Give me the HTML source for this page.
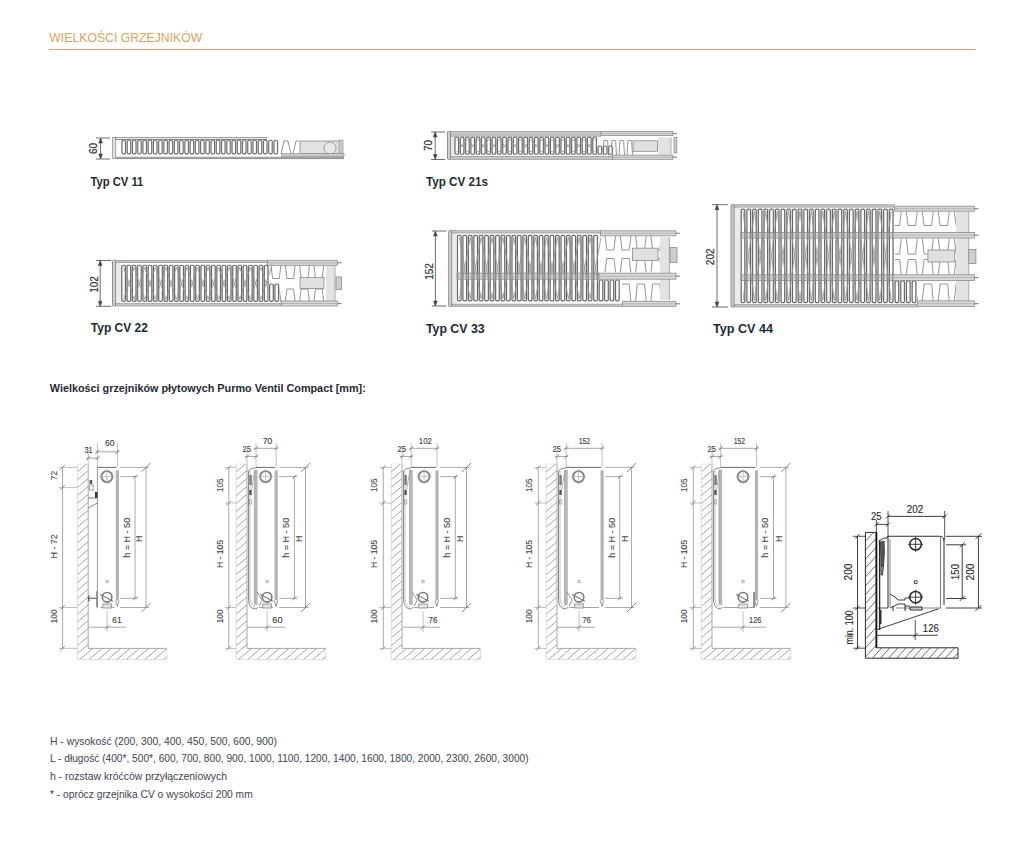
<!DOCTYPE html><html><head><meta charset="utf-8"><style>html,body{margin:0;padding:0;background:#fff;}svg{display:block}</style></head><body>
<svg width="1027" height="850" viewBox="0 0 1027 850">
<rect width="1027" height="850" fill="#ffffff"/>
<text x="49.3" y="41.7" font-family="Liberation Sans" font-size="13.4" font-weight="normal" fill="#e0a35c" text-anchor="start" textLength="153" lengthAdjust="spacingAndGlyphs">WIELKOŚCI GRZEJNIKÓW</text>
<line x1="49" y1="49.5" x2="975.5" y2="49.5" stroke="#cfa472" stroke-width="1"/>
<line x1="96" y1="138" x2="110" y2="138" stroke="#4a4a4a" stroke-width="0.8"/>
<line x1="96" y1="159" x2="110" y2="159" stroke="#4a4a4a" stroke-width="0.8"/>
<line x1="100.6" y1="139" x2="100.6" y2="158" stroke="#4a4a4a" stroke-width="0.8"/>
<path d="M98.8 143 L100.6 138 L102.39999999999999 143 Z" stroke="#444" stroke-width="0.6" fill="#444"/>
<path d="M98.8 154 L100.6 159 L102.39999999999999 154 Z" stroke="#444" stroke-width="0.6" fill="#444"/>
<text x="93.6" y="148.5" font-family="Liberation Sans" font-size="10" font-weight="normal" fill="#333" text-anchor="middle" transform="rotate(-90 93.6 148.5)" dominant-baseline="central" stroke="#333" stroke-width="0.2">60</text>
<rect x="112.7" y="137.4" width="3" height="21.0" fill="#e6e6e6" stroke="#8c8c8c" stroke-width="0.8" rx="0"/>
<line x1="115" y1="137.7" x2="267" y2="137.7" stroke="#8c8c8c" stroke-width="1"/>
<line x1="115" y1="139.5" x2="267" y2="139.5" stroke="#8c8c8c" stroke-width="1"/>
<line x1="116" y1="157.3" x2="344" y2="157.3" stroke="#8c8c8c" stroke-width="1"/>
<line x1="116" y1="158.6" x2="344" y2="158.6" stroke="#8c8c8c" stroke-width="1"/>
<rect x="121" y="140.7" width="157.46000000000004" height="12.600000000000023" fill="#e4e4e4" stroke="none" stroke-width="1" rx="0"/>
<rect x="122.0" y="140.2" width="3.5" height="13.600000000000023" fill="#ffffff" stroke="#6e6e6e" stroke-width="1.15" rx="1.3"/>
<rect x="127.24" y="140.2" width="3.5" height="13.600000000000023" fill="#ffffff" stroke="#6e6e6e" stroke-width="1.15" rx="1.3"/>
<rect x="132.48" y="140.2" width="3.5" height="13.600000000000023" fill="#ffffff" stroke="#6e6e6e" stroke-width="1.15" rx="1.3"/>
<rect x="137.72" y="140.2" width="3.5" height="13.600000000000023" fill="#ffffff" stroke="#6e6e6e" stroke-width="1.15" rx="1.3"/>
<rect x="142.96" y="140.2" width="3.5" height="13.600000000000023" fill="#ffffff" stroke="#6e6e6e" stroke-width="1.15" rx="1.3"/>
<rect x="148.2" y="140.2" width="3.5" height="13.600000000000023" fill="#ffffff" stroke="#6e6e6e" stroke-width="1.15" rx="1.3"/>
<rect x="153.44" y="140.2" width="3.5" height="13.600000000000023" fill="#ffffff" stroke="#6e6e6e" stroke-width="1.15" rx="1.3"/>
<rect x="158.68" y="140.2" width="3.5" height="13.600000000000023" fill="#ffffff" stroke="#6e6e6e" stroke-width="1.15" rx="1.3"/>
<rect x="163.92" y="140.2" width="3.5" height="13.600000000000023" fill="#ffffff" stroke="#6e6e6e" stroke-width="1.15" rx="1.3"/>
<rect x="169.16" y="140.2" width="3.5" height="13.600000000000023" fill="#ffffff" stroke="#6e6e6e" stroke-width="1.15" rx="1.3"/>
<rect x="174.4" y="140.2" width="3.5" height="13.600000000000023" fill="#ffffff" stroke="#6e6e6e" stroke-width="1.15" rx="1.3"/>
<rect x="179.64" y="140.2" width="3.5" height="13.600000000000023" fill="#ffffff" stroke="#6e6e6e" stroke-width="1.15" rx="1.3"/>
<rect x="184.88" y="140.2" width="3.5" height="13.600000000000023" fill="#ffffff" stroke="#6e6e6e" stroke-width="1.15" rx="1.3"/>
<rect x="190.12" y="140.2" width="3.5" height="13.600000000000023" fill="#ffffff" stroke="#6e6e6e" stroke-width="1.15" rx="1.3"/>
<rect x="195.36" y="140.2" width="3.5" height="13.600000000000023" fill="#ffffff" stroke="#6e6e6e" stroke-width="1.15" rx="1.3"/>
<rect x="200.6" y="140.2" width="3.5" height="13.600000000000023" fill="#ffffff" stroke="#6e6e6e" stroke-width="1.15" rx="1.3"/>
<rect x="205.84" y="140.2" width="3.5" height="13.600000000000023" fill="#ffffff" stroke="#6e6e6e" stroke-width="1.15" rx="1.3"/>
<rect x="211.08" y="140.2" width="3.5" height="13.600000000000023" fill="#ffffff" stroke="#6e6e6e" stroke-width="1.15" rx="1.3"/>
<rect x="216.32" y="140.2" width="3.5" height="13.600000000000023" fill="#ffffff" stroke="#6e6e6e" stroke-width="1.15" rx="1.3"/>
<rect x="221.56" y="140.2" width="3.5" height="13.600000000000023" fill="#ffffff" stroke="#6e6e6e" stroke-width="1.15" rx="1.3"/>
<rect x="226.8" y="140.2" width="3.5" height="13.600000000000023" fill="#ffffff" stroke="#6e6e6e" stroke-width="1.15" rx="1.3"/>
<rect x="232.04" y="140.2" width="3.5" height="13.600000000000023" fill="#ffffff" stroke="#6e6e6e" stroke-width="1.15" rx="1.3"/>
<rect x="237.28" y="140.2" width="3.5" height="13.600000000000023" fill="#ffffff" stroke="#6e6e6e" stroke-width="1.15" rx="1.3"/>
<rect x="242.52" y="140.2" width="3.5" height="13.600000000000023" fill="#ffffff" stroke="#6e6e6e" stroke-width="1.15" rx="1.3"/>
<rect x="247.76" y="140.2" width="3.5" height="13.600000000000023" fill="#ffffff" stroke="#6e6e6e" stroke-width="1.15" rx="1.3"/>
<rect x="253.0" y="140.2" width="3.5" height="13.600000000000023" fill="#ffffff" stroke="#6e6e6e" stroke-width="1.15" rx="1.3"/>
<rect x="258.24" y="140.2" width="3.5" height="13.600000000000023" fill="#ffffff" stroke="#6e6e6e" stroke-width="1.15" rx="1.3"/>
<rect x="263.48" y="140.2" width="3.5" height="13.600000000000023" fill="#ffffff" stroke="#6e6e6e" stroke-width="1.15" rx="1.3"/>
<rect x="268.72" y="140.2" width="3.5" height="13.600000000000023" fill="#ffffff" stroke="#6e6e6e" stroke-width="1.15" rx="1.3"/>
<rect x="273.96" y="140.2" width="3.5" height="13.600000000000023" fill="#ffffff" stroke="#6e6e6e" stroke-width="1.15" rx="1.3"/>
<rect x="300" y="141" width="42" height="13" fill="#e2e2e2" stroke="#888" stroke-width="0.8"/>
<path d="M281 154 L284 141 L288 141 L291 154 M293 154 L296 141 L299 141" stroke="#888" stroke-width="0.9" fill="none"/>
<circle cx="330" cy="148" r="6" fill="#e8e8e8" stroke="#888" stroke-width="0.8"/>
<rect x="339" y="140" width="4" height="14" fill="#ccc" stroke="#888" stroke-width="0.6"/>
<rect x="281.4" y="153.6" width="62.6" height="2.9" fill="#c8c8c8" stroke="#888" stroke-width="0.6"/>
<text x="90.4" y="186" font-family="Liberation Sans" font-size="13" font-weight="bold" fill="#1b2b36" text-anchor="start" textLength="53" lengthAdjust="spacingAndGlyphs">Typ CV 11</text>
<line x1="431" y1="132" x2="445" y2="132" stroke="#4a4a4a" stroke-width="0.8"/>
<line x1="431" y1="159.5" x2="445" y2="159.5" stroke="#4a4a4a" stroke-width="0.8"/>
<line x1="435.2" y1="133" x2="435.2" y2="158.5" stroke="#4a4a4a" stroke-width="0.8"/>
<path d="M433.4 137 L435.2 132 L437.0 137 Z" stroke="#444" stroke-width="0.6" fill="#444"/>
<path d="M433.4 154.5 L435.2 159.5 L437.0 154.5 Z" stroke="#444" stroke-width="0.6" fill="#444"/>
<text x="428.8" y="145.4" font-family="Liberation Sans" font-size="10" font-weight="normal" fill="#333" text-anchor="middle" transform="rotate(-90 428.8 145.4)" dominant-baseline="central" stroke="#333" stroke-width="0.2">70</text>
<rect x="450.5" y="133.8" width="3.5" height="23.299999999999994" fill="#ebebeb" stroke="none" stroke-width="1" rx="0"/>
<rect x="450.5" y="131.4" width="150.5" height="4.8" fill="#c4c4c4" stroke="#8a8a8a" stroke-width="0.6" rx="0"/>
<rect x="450.5" y="156.3" width="162.10000000000002" height="3.2" fill="#c4c4c4" stroke="#8a8a8a" stroke-width="0.6" rx="0"/>
<rect x="447.5" y="131.4" width="3.0" height="28.099999999999994" fill="#d0d0d0" stroke="#7a7a7a" stroke-width="0.8" rx="1"/>
<rect x="658" y="137.5" width="13" height="17.0" fill="#e3e3e3" stroke="none" stroke-width="1" rx="0"/>
<line x1="671" y1="137.5" x2="671" y2="154.5" stroke="#999" stroke-width="0.8"/>
<clipPath id="cup1"><rect x="601" y="136" width="32" height="20.5"/></clipPath>
<path d="M571.0 155.5 L571.9 140.5 L575.6 140.5 L576.5 155.5 M579.0 155.5 L579.9 140.5 L583.6 140.5 L584.5 155.5 M587.0 155.5 L587.9 140.5 L591.6 140.5 L592.5 155.5 M595.0 155.5 L595.9 140.5 L599.6 140.5 L600.5 155.5 M603.0 155.5 L603.9 140.5 L607.6 140.5 L608.5 155.5 M611.0 155.5 L611.9 140.5 L615.6 140.5 L616.5 155.5 M619.0 155.5 L619.9 140.5 L623.6 140.5 L624.5 155.5 M627.0 155.5 L627.9 140.5 L631.6 140.5 L632.5 155.5 M635.0 155.5 L635.9 140.5 L639.6 140.5 L640.5 155.5 " stroke="#8a8a8a" stroke-width="0.9" fill="none" clip-path="url(#cup1)"/>
<rect x="601" y="131.4" width="71.79999999999995" height="4.2" fill="#d9d9d9" stroke="#8a8a8a" stroke-width="0.8" rx="0"/>
<line x1="601" y1="133.5" x2="672.8" y2="133.5" stroke="#9a9a9a" stroke-width="0.6"/>
<line x1="672.8" y1="133.5" x2="676.8" y2="133.5" stroke="#888" stroke-width="1.2"/>
<rect x="612.6" y="155.1" width="60.19999999999993" height="4.2" fill="#d9d9d9" stroke="#8a8a8a" stroke-width="0.8" rx="0"/>
<line x1="612.6" y1="157.2" x2="672.8" y2="157.2" stroke="#9a9a9a" stroke-width="0.6"/>
<line x1="672.8" y1="157.2" x2="676.8" y2="157.2" stroke="#888" stroke-width="1.2"/>
<rect x="454" y="137.7" width="143.39999999999998" height="16.0" fill="#e4e4e4" stroke="none" stroke-width="1" rx="0"/>
<rect x="455.0" y="137.2" width="3.6" height="17.0" fill="#ffffff" stroke="#666666" stroke-width="1.15" rx="1.3"/>
<rect x="460.3" y="137.2" width="3.6" height="17.0" fill="#ffffff" stroke="#666666" stroke-width="1.15" rx="1.3"/>
<rect x="465.6" y="137.2" width="3.6" height="17.0" fill="#ffffff" stroke="#666666" stroke-width="1.15" rx="1.3"/>
<rect x="470.9" y="137.2" width="3.6" height="17.0" fill="#ffffff" stroke="#666666" stroke-width="1.15" rx="1.3"/>
<rect x="476.2" y="137.2" width="3.6" height="17.0" fill="#ffffff" stroke="#666666" stroke-width="1.15" rx="1.3"/>
<rect x="481.5" y="137.2" width="3.6" height="17.0" fill="#ffffff" stroke="#666666" stroke-width="1.15" rx="1.3"/>
<rect x="486.8" y="137.2" width="3.6" height="17.0" fill="#ffffff" stroke="#666666" stroke-width="1.15" rx="1.3"/>
<rect x="492.1" y="137.2" width="3.6" height="17.0" fill="#ffffff" stroke="#666666" stroke-width="1.15" rx="1.3"/>
<rect x="497.4" y="137.2" width="3.6" height="17.0" fill="#ffffff" stroke="#666666" stroke-width="1.15" rx="1.3"/>
<rect x="502.7" y="137.2" width="3.6" height="17.0" fill="#ffffff" stroke="#666666" stroke-width="1.15" rx="1.3"/>
<rect x="508.0" y="137.2" width="3.6" height="17.0" fill="#ffffff" stroke="#666666" stroke-width="1.15" rx="1.3"/>
<rect x="513.3" y="137.2" width="3.6" height="17.0" fill="#ffffff" stroke="#666666" stroke-width="1.15" rx="1.3"/>
<rect x="518.6" y="137.2" width="3.6" height="17.0" fill="#ffffff" stroke="#666666" stroke-width="1.15" rx="1.3"/>
<rect x="523.9" y="137.2" width="3.6" height="17.0" fill="#ffffff" stroke="#666666" stroke-width="1.15" rx="1.3"/>
<rect x="529.2" y="137.2" width="3.6" height="17.0" fill="#ffffff" stroke="#666666" stroke-width="1.15" rx="1.3"/>
<rect x="534.5" y="137.2" width="3.6" height="17.0" fill="#ffffff" stroke="#666666" stroke-width="1.15" rx="1.3"/>
<rect x="539.8" y="137.2" width="3.6" height="17.0" fill="#ffffff" stroke="#666666" stroke-width="1.15" rx="1.3"/>
<rect x="545.1" y="137.2" width="3.6" height="17.0" fill="#ffffff" stroke="#666666" stroke-width="1.15" rx="1.3"/>
<rect x="550.4" y="137.2" width="3.6" height="17.0" fill="#ffffff" stroke="#666666" stroke-width="1.15" rx="1.3"/>
<rect x="555.7" y="137.2" width="3.6" height="17.0" fill="#ffffff" stroke="#666666" stroke-width="1.15" rx="1.3"/>
<rect x="561.0" y="137.2" width="3.6" height="17.0" fill="#ffffff" stroke="#666666" stroke-width="1.15" rx="1.3"/>
<rect x="566.3" y="137.2" width="3.6" height="17.0" fill="#ffffff" stroke="#666666" stroke-width="1.15" rx="1.3"/>
<rect x="571.6" y="137.2" width="3.6" height="17.0" fill="#ffffff" stroke="#666666" stroke-width="1.15" rx="1.3"/>
<rect x="576.9" y="137.2" width="3.6" height="17.0" fill="#ffffff" stroke="#666666" stroke-width="1.15" rx="1.3"/>
<rect x="582.2" y="137.2" width="3.6" height="17.0" fill="#ffffff" stroke="#666666" stroke-width="1.15" rx="1.3"/>
<rect x="587.5" y="137.2" width="3.6" height="17.0" fill="#ffffff" stroke="#666666" stroke-width="1.15" rx="1.3"/>
<rect x="592.8" y="137.2" width="3.6" height="17.0" fill="#ffffff" stroke="#666666" stroke-width="1.15" rx="1.3"/>
<path d="M456.8 139.2 L462.1 145.7 L456.8 152.2 M467.4 139.2 L462.1 145.7 L467.4 152.2 M467.4 139.2 L472.7 145.7 L467.4 152.2 M478.0 139.2 L472.7 145.7 L478.0 152.2 M478.0 139.2 L483.3 145.7 L478.0 152.2 M488.6 139.2 L483.3 145.7 L488.6 152.2 M488.6 139.2 L493.9 145.7 L488.6 152.2 M499.2 139.2 L493.9 145.7 L499.2 152.2 M499.2 139.2 L504.5 145.7 L499.2 152.2 M509.8 139.2 L504.5 145.7 L509.8 152.2 M509.8 139.2 L515.1 145.7 L509.8 152.2 M520.4 139.2 L515.1 145.7 L520.4 152.2 M520.4 139.2 L525.7 145.7 L520.4 152.2 M531.0 139.2 L525.7 145.7 L531.0 152.2 M531.0 139.2 L536.3 145.7 L531.0 152.2 M541.6 139.2 L536.3 145.7 L541.6 152.2 M541.6 139.2 L546.9 145.7 L541.6 152.2 M552.2 139.2 L546.9 145.7 L552.2 152.2 M552.2 139.2 L557.5 145.7 L552.2 152.2 M562.8 139.2 L557.5 145.7 L562.8 152.2 M562.8 139.2 L568.1 145.7 L562.8 152.2 M573.4 139.2 L568.1 145.7 L573.4 152.2 M573.4 139.2 L578.7 145.7 L573.4 152.2 M584.0 139.2 L578.7 145.7 L584.0 152.2 M584.0 139.2 L589.3 145.7 L584.0 152.2 M594.6 139.2 L589.3 145.7 L594.6 152.2 " stroke="#909090" stroke-width="0.8" fill="none"/>
<rect x="597.1" y="146.5" width="16.200000000000045" height="7.199999999999989" fill="#e4e4e4" stroke="none" stroke-width="1" rx="0"/>
<rect x="598.1" y="146" width="3.6" height="8.199999999999989" fill="#ffffff" stroke="#666666" stroke-width="1.15" rx="1.3"/>
<rect x="603.4" y="146" width="3.6" height="8.199999999999989" fill="#ffffff" stroke="#666666" stroke-width="1.15" rx="1.3"/>
<rect x="608.7" y="146" width="3.6" height="8.199999999999989" fill="#ffffff" stroke="#666666" stroke-width="1.15" rx="1.3"/>
<rect x="633" y="140.8" width="24.600000000000023" height="10.5" fill="#e0e0e0" stroke="#8a8a8a" stroke-width="0.8" rx="0"/>
<rect x="674" y="137.5" width="2.7999999999999545" height="15.5" fill="#cfcfcf" stroke="#8a8a8a" stroke-width="0.8" rx="0"/>
<text x="425.9" y="186.2" font-family="Liberation Sans" font-size="13" font-weight="bold" fill="#1b2b36" text-anchor="start" textLength="62" lengthAdjust="spacingAndGlyphs">Typ CV 21s</text>
<line x1="96" y1="260.5" x2="111.3" y2="260.5" stroke="#4a4a4a" stroke-width="0.8"/>
<line x1="96" y1="306.3" x2="111.3" y2="306.3" stroke="#4a4a4a" stroke-width="0.8"/>
<line x1="100.2" y1="261.5" x2="100.2" y2="305.3" stroke="#4a4a4a" stroke-width="0.8"/>
<path d="M98.4 265.5 L100.2 260.5 L102.0 265.5 Z" stroke="#444" stroke-width="0.6" fill="#444"/>
<path d="M98.4 301.3 L100.2 306.3 L102.0 301.3 Z" stroke="#444" stroke-width="0.6" fill="#444"/>
<text x="94.3" y="284.5" font-family="Liberation Sans" font-size="10" font-weight="normal" fill="#333" text-anchor="middle" transform="rotate(-90 94.3 284.5)" dominant-baseline="central" stroke="#333" stroke-width="0.2">102</text>
<rect x="115.5" y="262.7" width="5.299999999999997" height="40.89999999999999" fill="#ebebeb" stroke="none" stroke-width="1" rx="0"/>
<rect x="115.5" y="260.3" width="152.0" height="2.4" fill="#c4c4c4" stroke="#8a8a8a" stroke-width="0.6" rx="0"/>
<rect x="115.5" y="303.6" width="166.0" height="2.4" fill="#c4c4c4" stroke="#8a8a8a" stroke-width="0.6" rx="0"/>
<rect x="112.5" y="260.3" width="3.0" height="45.69999999999999" fill="#d0d0d0" stroke="#7a7a7a" stroke-width="0.8" rx="1"/>
<rect x="326" y="265" width="9" height="36" fill="#e3e3e3" stroke="none" stroke-width="1" rx="0"/>
<line x1="335" y1="265" x2="335" y2="301" stroke="#999" stroke-width="0.8"/>
<clipPath id="cup2"><rect x="268" y="264" width="58" height="39"/></clipPath>
<path d="M213.8 265 L215.4 278.5 L222.1 278.5 L223.7 265 M213.8 302 L215.4 289 L222.1 289 L223.7 302 M228.1 265 L229.7 278.5 L236.4 278.5 L238.0 265 M228.1 302 L229.7 289 L236.4 289 L238.0 302 M242.4 265 L244.0 278.5 L250.7 278.5 L252.3 265 M242.4 302 L244.0 289 L250.7 289 L252.3 302 M256.7 265 L258.3 278.5 L265.0 278.5 L266.6 265 M256.7 302 L258.3 289 L265.0 289 L266.6 302 M271.0 265 L272.6 278.5 L279.3 278.5 L280.9 265 M271.0 302 L272.6 289 L279.3 289 L280.9 302 M285.3 265 L286.9 278.5 L293.6 278.5 L295.2 265 M285.3 302 L286.9 289 L293.6 289 L295.2 302 M299.6 265 L301.2 278.5 L307.9 278.5 L309.5 265 M299.6 302 L301.2 289 L307.9 289 L309.5 302 M313.9 265 L315.5 278.5 L322.2 278.5 L323.8 265 M313.9 302 L315.5 289 L322.2 289 L323.8 302 M328.2 265 L329.8 278.5 L336.5 278.5 L338.1 265 M328.2 302 L329.8 289 L336.5 289 L338.1 302 " stroke="#8a8a8a" stroke-width="0.9" fill="none" clip-path="url(#cup2)"/>
<rect x="267.5" y="260.3" width="70.0" height="5" fill="#d9d9d9" stroke="#8a8a8a" stroke-width="0.8" rx="0"/>
<line x1="267.5" y1="262.8" x2="337.5" y2="262.8" stroke="#9a9a9a" stroke-width="0.6"/>
<line x1="337.5" y1="262.8" x2="341.5" y2="262.8" stroke="#888" stroke-width="1.2"/>
<rect x="281.5" y="301.0" width="56.0" height="5" fill="#d9d9d9" stroke="#8a8a8a" stroke-width="0.8" rx="0"/>
<line x1="281.5" y1="303.5" x2="337.5" y2="303.5" stroke="#9a9a9a" stroke-width="0.6"/>
<line x1="337.5" y1="303.5" x2="341.5" y2="303.5" stroke="#888" stroke-width="1.2"/>
<rect x="120.8" y="265.7" width="148.16000000000003" height="35.19999999999999" fill="#e4e4e4" stroke="none" stroke-width="1" rx="0"/>
<rect x="121.8" y="265.2" width="3.6" height="36.19999999999999" fill="#ffffff" stroke="#666666" stroke-width="1.15" rx="1.3"/>
<rect x="127.08" y="265.2" width="3.6" height="36.19999999999999" fill="#ffffff" stroke="#666666" stroke-width="1.15" rx="1.3"/>
<rect x="132.36" y="265.2" width="3.6" height="36.19999999999999" fill="#ffffff" stroke="#666666" stroke-width="1.15" rx="1.3"/>
<rect x="137.64" y="265.2" width="3.6" height="36.19999999999999" fill="#ffffff" stroke="#666666" stroke-width="1.15" rx="1.3"/>
<rect x="142.92" y="265.2" width="3.6" height="36.19999999999999" fill="#ffffff" stroke="#666666" stroke-width="1.15" rx="1.3"/>
<rect x="148.2" y="265.2" width="3.6" height="36.19999999999999" fill="#ffffff" stroke="#666666" stroke-width="1.15" rx="1.3"/>
<rect x="153.48" y="265.2" width="3.6" height="36.19999999999999" fill="#ffffff" stroke="#666666" stroke-width="1.15" rx="1.3"/>
<rect x="158.76" y="265.2" width="3.6" height="36.19999999999999" fill="#ffffff" stroke="#666666" stroke-width="1.15" rx="1.3"/>
<rect x="164.04" y="265.2" width="3.6" height="36.19999999999999" fill="#ffffff" stroke="#666666" stroke-width="1.15" rx="1.3"/>
<rect x="169.32" y="265.2" width="3.6" height="36.19999999999999" fill="#ffffff" stroke="#666666" stroke-width="1.15" rx="1.3"/>
<rect x="174.6" y="265.2" width="3.6" height="36.19999999999999" fill="#ffffff" stroke="#666666" stroke-width="1.15" rx="1.3"/>
<rect x="179.88" y="265.2" width="3.6" height="36.19999999999999" fill="#ffffff" stroke="#666666" stroke-width="1.15" rx="1.3"/>
<rect x="185.16" y="265.2" width="3.6" height="36.19999999999999" fill="#ffffff" stroke="#666666" stroke-width="1.15" rx="1.3"/>
<rect x="190.44" y="265.2" width="3.6" height="36.19999999999999" fill="#ffffff" stroke="#666666" stroke-width="1.15" rx="1.3"/>
<rect x="195.72" y="265.2" width="3.6" height="36.19999999999999" fill="#ffffff" stroke="#666666" stroke-width="1.15" rx="1.3"/>
<rect x="201.0" y="265.2" width="3.6" height="36.19999999999999" fill="#ffffff" stroke="#666666" stroke-width="1.15" rx="1.3"/>
<rect x="206.28" y="265.2" width="3.6" height="36.19999999999999" fill="#ffffff" stroke="#666666" stroke-width="1.15" rx="1.3"/>
<rect x="211.56" y="265.2" width="3.6" height="36.19999999999999" fill="#ffffff" stroke="#666666" stroke-width="1.15" rx="1.3"/>
<rect x="216.84" y="265.2" width="3.6" height="36.19999999999999" fill="#ffffff" stroke="#666666" stroke-width="1.15" rx="1.3"/>
<rect x="222.12" y="265.2" width="3.6" height="36.19999999999999" fill="#ffffff" stroke="#666666" stroke-width="1.15" rx="1.3"/>
<rect x="227.4" y="265.2" width="3.6" height="36.19999999999999" fill="#ffffff" stroke="#666666" stroke-width="1.15" rx="1.3"/>
<rect x="232.68" y="265.2" width="3.6" height="36.19999999999999" fill="#ffffff" stroke="#666666" stroke-width="1.15" rx="1.3"/>
<rect x="237.96" y="265.2" width="3.6" height="36.19999999999999" fill="#ffffff" stroke="#666666" stroke-width="1.15" rx="1.3"/>
<rect x="243.24" y="265.2" width="3.6" height="36.19999999999999" fill="#ffffff" stroke="#666666" stroke-width="1.15" rx="1.3"/>
<rect x="248.52" y="265.2" width="3.6" height="36.19999999999999" fill="#ffffff" stroke="#666666" stroke-width="1.15" rx="1.3"/>
<rect x="253.8" y="265.2" width="3.6" height="36.19999999999999" fill="#ffffff" stroke="#666666" stroke-width="1.15" rx="1.3"/>
<rect x="259.08" y="265.2" width="3.6" height="36.19999999999999" fill="#ffffff" stroke="#666666" stroke-width="1.15" rx="1.3"/>
<rect x="264.36" y="265.2" width="3.6" height="36.19999999999999" fill="#ffffff" stroke="#666666" stroke-width="1.15" rx="1.3"/>
<path d="M123.6 267.2 L128.9 283.3 L123.6 299.4 M134.2 267.2 L128.9 283.3 L134.2 299.4 M134.2 267.2 L139.4 283.3 L134.2 299.4 M144.7 267.2 L139.4 283.3 L144.7 299.4 M144.7 267.2 L150.0 283.3 L144.7 299.4 M155.3 267.2 L150.0 283.3 L155.3 299.4 M155.3 267.2 L160.6 283.3 L155.3 299.4 M165.8 267.2 L160.6 283.3 L165.8 299.4 M165.8 267.2 L171.1 283.3 L165.8 299.4 M176.4 267.2 L171.1 283.3 L176.4 299.4 M176.4 267.2 L181.7 283.3 L176.4 299.4 M187.0 267.2 L181.7 283.3 L187.0 299.4 M187.0 267.2 L192.2 283.3 L187.0 299.4 M197.5 267.2 L192.2 283.3 L197.5 299.4 M197.5 267.2 L202.8 283.3 L197.5 299.4 M208.1 267.2 L202.8 283.3 L208.1 299.4 M208.1 267.2 L213.4 283.3 L208.1 299.4 M218.6 267.2 L213.4 283.3 L218.6 299.4 M218.6 267.2 L223.9 283.3 L218.6 299.4 M229.2 267.2 L223.9 283.3 L229.2 299.4 M229.2 267.2 L234.5 283.3 L229.2 299.4 M239.8 267.2 L234.5 283.3 L239.8 299.4 M239.8 267.2 L245.0 283.3 L239.8 299.4 M250.3 267.2 L245.0 283.3 L250.3 299.4 M250.3 267.2 L255.6 283.3 L250.3 299.4 M260.9 267.2 L255.6 283.3 L260.9 299.4 M260.9 267.2 L266.2 283.3 L260.9 299.4 M271.4 267.2 L266.2 283.3 L271.4 299.4 " stroke="#909090" stroke-width="0.8" fill="none"/>
<rect x="268.64" y="284.5" width="10.879999999999995" height="16.399999999999977" fill="#e4e4e4" stroke="none" stroke-width="1" rx="0"/>
<rect x="269.64" y="284" width="3.6" height="17.399999999999977" fill="#ffffff" stroke="#666666" stroke-width="1.15" rx="1.3"/>
<rect x="274.92" y="284" width="3.6" height="17.399999999999977" fill="#ffffff" stroke="#666666" stroke-width="1.15" rx="1.3"/>
<rect x="300" y="277.5" width="24" height="11.0" fill="#e0e0e0" stroke="#8a8a8a" stroke-width="0.8" rx="0"/>
<rect x="336" y="277" width="5.600000000000023" height="12.5" fill="#cfcfcf" stroke="#8a8a8a" stroke-width="0.8" rx="0"/>
<text x="90.8" y="332.4" font-family="Liberation Sans" font-size="13" font-weight="bold" fill="#1b2b36" text-anchor="start" textLength="57" lengthAdjust="spacingAndGlyphs">Typ CV 22</text>
<line x1="431.8" y1="231" x2="446.5" y2="231" stroke="#4a4a4a" stroke-width="0.8"/>
<line x1="431.8" y1="306" x2="446.5" y2="306" stroke="#4a4a4a" stroke-width="0.8"/>
<line x1="435.4" y1="232" x2="435.4" y2="305" stroke="#4a4a4a" stroke-width="0.8"/>
<path d="M433.59999999999997 236 L435.4 231 L437.2 236 Z" stroke="#444" stroke-width="0.6" fill="#444"/>
<path d="M433.59999999999997 301 L435.4 306 L437.2 301 Z" stroke="#444" stroke-width="0.6" fill="#444"/>
<text x="429" y="271.5" font-family="Liberation Sans" font-size="10" font-weight="normal" fill="#333" text-anchor="middle" transform="rotate(-90 429 271.5)" dominant-baseline="central" stroke="#333" stroke-width="0.2">152</text>
<rect x="451.7" y="233.0" width="4.800000000000011" height="71.10000000000001" fill="#ebebeb" stroke="none" stroke-width="1" rx="0"/>
<rect x="451.7" y="230.6" width="148.90000000000003" height="2.4" fill="#c4c4c4" stroke="#8a8a8a" stroke-width="0.6" rx="0"/>
<rect x="451.7" y="304.1" width="170.7" height="2.4" fill="#c4c4c4" stroke="#8a8a8a" stroke-width="0.6" rx="0"/>
<rect x="448.7" y="230.6" width="3.0" height="75.9" fill="#d0d0d0" stroke="#7a7a7a" stroke-width="0.8" rx="1"/>
<rect x="660" y="237" width="9.399999999999977" height="63" fill="#e3e3e3" stroke="none" stroke-width="1" rx="0"/>
<line x1="669.4" y1="237" x2="669.4" y2="300" stroke="#999" stroke-width="0.8"/>
<clipPath id="cup3"><rect x="601" y="235" width="59" height="38.5"/></clipPath>
<path d="M543.8 236 L545.5 250 L552.7 250 L554.4 236 M543.8 272.5 L545.5 258.5 L552.7 258.5 L554.4 272.5 M559.1 236 L560.8 250 L568.0 250 L569.7 236 M559.1 272.5 L560.8 258.5 L568.0 258.5 L569.7 272.5 M574.4 236 L576.1 250 L583.3 250 L585.0 236 M574.4 272.5 L576.1 258.5 L583.3 258.5 L585.0 272.5 M589.7 236 L591.4 250 L598.6 250 L600.3 236 M589.7 272.5 L591.4 258.5 L598.6 258.5 L600.3 272.5 M605.0 236 L606.7 250 L613.9 250 L615.6 236 M605.0 272.5 L606.7 258.5 L613.9 258.5 L615.6 272.5 M620.3 236 L622.0 250 L629.2 250 L630.9 236 M620.3 272.5 L622.0 258.5 L629.2 258.5 L630.9 272.5 M635.6 236 L637.3 250 L644.5 250 L646.2 236 M635.6 272.5 L637.3 258.5 L644.5 258.5 L646.2 272.5 M650.9 236 L652.6 250 L659.8 250 L661.5 236 M650.9 272.5 L652.6 258.5 L659.8 258.5 L661.5 272.5 M666.2 236 L667.9 250 L675.1 250 L676.8 236 M666.2 272.5 L667.9 258.5 L675.1 258.5 L676.8 272.5 " stroke="#8a8a8a" stroke-width="0.9" fill="none" clip-path="url(#cup3)"/>
<clipPath id="cup4"><rect x="622" y="278.5" width="38" height="23.5"/></clipPath>
<path d="M543.8 301 L545.5 284 L552.7 284 L554.4 301 M559.1 301 L560.8 284 L568.0 284 L569.7 301 M574.4 301 L576.1 284 L583.3 284 L585.0 301 M589.7 301 L591.4 284 L598.6 284 L600.3 301 M605.0 301 L606.7 284 L613.9 284 L615.6 301 M620.3 301 L622.0 284 L629.2 284 L630.9 301 M635.6 301 L637.3 284 L644.5 284 L646.2 301 M650.9 301 L652.6 284 L659.8 284 L661.5 301 M666.2 301 L667.9 284 L675.1 284 L676.8 301 " stroke="#8a8a8a" stroke-width="0.9" fill="none" clip-path="url(#cup4)"/>
<rect x="600.6" y="230.8" width="75.29999999999995" height="5" fill="#d9d9d9" stroke="#8a8a8a" stroke-width="0.8" rx="0"/>
<line x1="600.6" y1="233.3" x2="675.9" y2="233.3" stroke="#9a9a9a" stroke-width="0.6"/>
<line x1="675.9" y1="233.3" x2="679.9" y2="233.3" stroke="#888" stroke-width="1.2"/>
<rect x="622.4" y="301.3" width="53.5" height="5" fill="#d9d9d9" stroke="#8a8a8a" stroke-width="0.8" rx="0"/>
<line x1="622.4" y1="303.8" x2="675.9" y2="303.8" stroke="#9a9a9a" stroke-width="0.6"/>
<line x1="675.9" y1="303.8" x2="679.9" y2="303.8" stroke="#888" stroke-width="1.2"/>
<rect x="456.5" y="235.9" width="141.85000000000002" height="64.49999999999997" fill="#e4e4e4" stroke="none" stroke-width="1" rx="0"/>
<rect x="457.5" y="235.4" width="3.6" height="65.49999999999997" fill="#ffffff" stroke="#666666" stroke-width="1.15" rx="1.3"/>
<rect x="462.95" y="235.4" width="3.6" height="65.49999999999997" fill="#ffffff" stroke="#666666" stroke-width="1.15" rx="1.3"/>
<rect x="468.4" y="235.4" width="3.6" height="65.49999999999997" fill="#ffffff" stroke="#666666" stroke-width="1.15" rx="1.3"/>
<rect x="473.85" y="235.4" width="3.6" height="65.49999999999997" fill="#ffffff" stroke="#666666" stroke-width="1.15" rx="1.3"/>
<rect x="479.3" y="235.4" width="3.6" height="65.49999999999997" fill="#ffffff" stroke="#666666" stroke-width="1.15" rx="1.3"/>
<rect x="484.75" y="235.4" width="3.6" height="65.49999999999997" fill="#ffffff" stroke="#666666" stroke-width="1.15" rx="1.3"/>
<rect x="490.2" y="235.4" width="3.6" height="65.49999999999997" fill="#ffffff" stroke="#666666" stroke-width="1.15" rx="1.3"/>
<rect x="495.65" y="235.4" width="3.6" height="65.49999999999997" fill="#ffffff" stroke="#666666" stroke-width="1.15" rx="1.3"/>
<rect x="501.1" y="235.4" width="3.6" height="65.49999999999997" fill="#ffffff" stroke="#666666" stroke-width="1.15" rx="1.3"/>
<rect x="506.55" y="235.4" width="3.6" height="65.49999999999997" fill="#ffffff" stroke="#666666" stroke-width="1.15" rx="1.3"/>
<rect x="512.0" y="235.4" width="3.6" height="65.49999999999997" fill="#ffffff" stroke="#666666" stroke-width="1.15" rx="1.3"/>
<rect x="517.45" y="235.4" width="3.6" height="65.49999999999997" fill="#ffffff" stroke="#666666" stroke-width="1.15" rx="1.3"/>
<rect x="522.9" y="235.4" width="3.6" height="65.49999999999997" fill="#ffffff" stroke="#666666" stroke-width="1.15" rx="1.3"/>
<rect x="528.35" y="235.4" width="3.6" height="65.49999999999997" fill="#ffffff" stroke="#666666" stroke-width="1.15" rx="1.3"/>
<rect x="533.8" y="235.4" width="3.6" height="65.49999999999997" fill="#ffffff" stroke="#666666" stroke-width="1.15" rx="1.3"/>
<rect x="539.25" y="235.4" width="3.6" height="65.49999999999997" fill="#ffffff" stroke="#666666" stroke-width="1.15" rx="1.3"/>
<rect x="544.7" y="235.4" width="3.6" height="65.49999999999997" fill="#ffffff" stroke="#666666" stroke-width="1.15" rx="1.3"/>
<rect x="550.15" y="235.4" width="3.6" height="65.49999999999997" fill="#ffffff" stroke="#666666" stroke-width="1.15" rx="1.3"/>
<rect x="555.6" y="235.4" width="3.6" height="65.49999999999997" fill="#ffffff" stroke="#666666" stroke-width="1.15" rx="1.3"/>
<rect x="561.05" y="235.4" width="3.6" height="65.49999999999997" fill="#ffffff" stroke="#666666" stroke-width="1.15" rx="1.3"/>
<rect x="566.5" y="235.4" width="3.6" height="65.49999999999997" fill="#ffffff" stroke="#666666" stroke-width="1.15" rx="1.3"/>
<rect x="571.95" y="235.4" width="3.6" height="65.49999999999997" fill="#ffffff" stroke="#666666" stroke-width="1.15" rx="1.3"/>
<rect x="577.4" y="235.4" width="3.6" height="65.49999999999997" fill="#ffffff" stroke="#666666" stroke-width="1.15" rx="1.3"/>
<rect x="582.85" y="235.4" width="3.6" height="65.49999999999997" fill="#ffffff" stroke="#666666" stroke-width="1.15" rx="1.3"/>
<rect x="588.3" y="235.4" width="3.6" height="65.49999999999997" fill="#ffffff" stroke="#666666" stroke-width="1.15" rx="1.3"/>
<rect x="593.75" y="235.4" width="3.6" height="65.49999999999997" fill="#ffffff" stroke="#666666" stroke-width="1.15" rx="1.3"/>
<path d="M459.3 237.4 L464.8 268.1 L459.3 298.9 M470.2 237.4 L464.8 268.1 L470.2 298.9 M470.2 237.4 L475.6 268.1 L470.2 298.9 M481.1 237.4 L475.6 268.1 L481.1 298.9 M481.1 237.4 L486.6 268.1 L481.1 298.9 M492.0 237.4 L486.6 268.1 L492.0 298.9 M492.0 237.4 L497.4 268.1 L492.0 298.9 M502.9 237.4 L497.4 268.1 L502.9 298.9 M502.9 237.4 L508.4 268.1 L502.9 298.9 M513.8 237.4 L508.4 268.1 L513.8 298.9 M513.8 237.4 L519.2 268.1 L513.8 298.9 M524.7 237.4 L519.2 268.1 L524.7 298.9 M524.7 237.4 L530.1 268.1 L524.7 298.9 M535.6 237.4 L530.1 268.1 L535.6 298.9 M535.6 237.4 L541.0 268.1 L535.6 298.9 M546.5 237.4 L541.0 268.1 L546.5 298.9 M546.5 237.4 L552.0 268.1 L546.5 298.9 M557.4 237.4 L552.0 268.1 L557.4 298.9 M557.4 237.4 L562.9 268.1 L557.4 298.9 M568.3 237.4 L562.9 268.1 L568.3 298.9 M568.3 237.4 L573.8 268.1 L568.3 298.9 M579.2 237.4 L573.8 268.1 L579.2 298.9 M579.2 237.4 L584.6 268.1 L579.2 298.9 M590.1 237.4 L584.6 268.1 L590.1 298.9 M590.1 237.4 L595.5 268.1 L590.1 298.9 M601.0 237.4 L595.5 268.1 L601.0 298.9 " stroke="#909090" stroke-width="0.8" fill="none"/>
<rect x="598.2" y="280.5" width="21.950000000000045" height="19.899999999999977" fill="#e4e4e4" stroke="none" stroke-width="1" rx="0"/>
<rect x="599.2" y="280" width="3.6" height="20.899999999999977" fill="#ffffff" stroke="#666666" stroke-width="1.15" rx="1.3"/>
<rect x="604.65" y="280" width="3.6" height="20.899999999999977" fill="#ffffff" stroke="#666666" stroke-width="1.15" rx="1.3"/>
<rect x="610.1" y="280" width="3.6" height="20.899999999999977" fill="#ffffff" stroke="#666666" stroke-width="1.15" rx="1.3"/>
<rect x="615.55" y="280" width="3.6" height="20.899999999999977" fill="#ffffff" stroke="#666666" stroke-width="1.15" rx="1.3"/>
<rect x="457" y="273.2" width="142" height="6" fill="#a0a0a0" fill-opacity="0.4" stroke="#8a8a8a" stroke-width="0.8"/>
<line x1="457" y1="276.2" x2="599" y2="276.2" stroke="#a8a8a8" stroke-width="0.6"/>
<rect x="599" y="273.2" width="76.89999999999998" height="6" fill="#d9d9d9" stroke="#8a8a8a" stroke-width="0.8" rx="0"/>
<line x1="599" y1="276.2" x2="675.9" y2="276.2" stroke="#9a9a9a" stroke-width="0.6"/>
<line x1="675.9" y1="276.2" x2="679.9" y2="276.2" stroke="#888" stroke-width="1.2"/>
<rect x="632.4" y="248.2" width="25.600000000000023" height="12.400000000000034" fill="#e0e0e0" stroke="#8a8a8a" stroke-width="0.8" rx="0"/>
<rect x="670" y="247.6" width="7" height="14.799999999999983" fill="#cfcfcf" stroke="#8a8a8a" stroke-width="0.8" rx="0"/>
<text x="425.9" y="332.5" font-family="Liberation Sans" font-size="13" font-weight="bold" fill="#1b2b36" text-anchor="start" textLength="58.8" lengthAdjust="spacingAndGlyphs">Typ CV 33</text>
<line x1="712" y1="204.7" x2="728" y2="204.7" stroke="#4a4a4a" stroke-width="0.8"/>
<line x1="712" y1="307" x2="728" y2="307" stroke="#4a4a4a" stroke-width="0.8"/>
<line x1="717" y1="205.7" x2="717" y2="306" stroke="#4a4a4a" stroke-width="0.8"/>
<path d="M715.2 209.7 L717 204.7 L718.8 209.7 Z" stroke="#444" stroke-width="0.6" fill="#444"/>
<path d="M715.2 302 L717 307 L718.8 302 Z" stroke="#444" stroke-width="0.6" fill="#444"/>
<text x="710.3" y="256.8" font-family="Liberation Sans" font-size="10" font-weight="normal" fill="#333" text-anchor="middle" transform="rotate(-90 710.3 256.8)" dominant-baseline="central" stroke="#333" stroke-width="0.2">202</text>
<rect x="734" y="207.1" width="6.2000000000000455" height="97.50000000000001" fill="#ebebeb" stroke="none" stroke-width="1" rx="0"/>
<rect x="734" y="204.7" width="160.70000000000005" height="2.4" fill="#c4c4c4" stroke="#8a8a8a" stroke-width="0.6" rx="0"/>
<rect x="734" y="304.6" width="183.29999999999995" height="2.4" fill="#c4c4c4" stroke="#8a8a8a" stroke-width="0.6" rx="0"/>
<rect x="731" y="204.7" width="3.0" height="102.30000000000001" fill="#d0d0d0" stroke="#7a7a7a" stroke-width="0.8" rx="1"/>
<rect x="956" y="212" width="12.799999999999955" height="89" fill="#e3e3e3" stroke="none" stroke-width="1" rx="0"/>
<line x1="968.8" y1="212" x2="968.8" y2="301" stroke="#999" stroke-width="0.8"/>
<clipPath id="cup5"><rect x="895" y="210.5" width="61" height="22.5"/></clipPath>
<path d="M842.3 211.5 L844.1 225.5 L851.6 225.5 L853.3 211.5 M858.3 211.5 L860.1 225.5 L867.6 225.5 L869.3 211.5 M874.3 211.5 L876.1 225.5 L883.6 225.5 L885.3 211.5 M890.3 211.5 L892.1 225.5 L899.6 225.5 L901.3 211.5 M906.3 211.5 L908.1 225.5 L915.6 225.5 L917.3 211.5 M922.3 211.5 L924.1 225.5 L931.6 225.5 L933.3 211.5 M938.3 211.5 L940.1 225.5 L947.6 225.5 L949.3 211.5 M954.3 211.5 L956.1 225.5 L963.6 225.5 L965.3 211.5 M970.3 211.5 L972.1 225.5 L979.6 225.5 L981.3 211.5 " stroke="#8a8a8a" stroke-width="0.9" fill="none" clip-path="url(#cup5)"/>
<clipPath id="cup6"><rect x="895" y="237.5" width="61" height="38.0"/></clipPath>
<path d="M842.3 238.5 L844.1 254.0 L851.6 254.0 L853.3 238.5 M842.3 274.5 L844.1 259.5 L851.6 259.5 L853.3 274.5 M858.3 238.5 L860.1 254.0 L867.6 254.0 L869.3 238.5 M858.3 274.5 L860.1 259.5 L867.6 259.5 L869.3 274.5 M874.3 238.5 L876.1 254.0 L883.6 254.0 L885.3 238.5 M874.3 274.5 L876.1 259.5 L883.6 259.5 L885.3 274.5 M890.3 238.5 L892.1 254.0 L899.6 254.0 L901.3 238.5 M890.3 274.5 L892.1 259.5 L899.6 259.5 L901.3 274.5 M906.3 238.5 L908.1 254.0 L915.6 254.0 L917.3 238.5 M906.3 274.5 L908.1 259.5 L915.6 259.5 L917.3 274.5 M922.3 238.5 L924.1 254.0 L931.6 254.0 L933.3 238.5 M922.3 274.5 L924.1 259.5 L931.6 259.5 L933.3 274.5 M938.3 238.5 L940.1 254.0 L947.6 254.0 L949.3 238.5 M938.3 274.5 L940.1 259.5 L947.6 259.5 L949.3 274.5 M954.3 238.5 L956.1 254.0 L963.6 254.0 L965.3 238.5 M954.3 274.5 L956.1 259.5 L963.6 259.5 L965.3 274.5 M970.3 238.5 L972.1 254.0 L979.6 254.0 L981.3 238.5 M970.3 274.5 L972.1 259.5 L979.6 259.5 L981.3 274.5 " stroke="#8a8a8a" stroke-width="0.9" fill="none" clip-path="url(#cup6)"/>
<clipPath id="cup7"><rect x="917" y="279.5" width="39" height="22.5"/></clipPath>
<path d="M842.3 301 L844.1 284 L851.6 284 L853.3 301 M858.3 301 L860.1 284 L867.6 284 L869.3 301 M874.3 301 L876.1 284 L883.6 284 L885.3 301 M890.3 301 L892.1 284 L899.6 284 L901.3 301 M906.3 301 L908.1 284 L915.6 284 L917.3 301 M922.3 301 L924.1 284 L931.6 284 L933.3 301 M938.3 301 L940.1 284 L947.6 284 L949.3 301 M954.3 301 L956.1 284 L963.6 284 L965.3 301 M970.3 301 L972.1 284 L979.6 284 L981.3 301 " stroke="#8a8a8a" stroke-width="0.9" fill="none" clip-path="url(#cup7)"/>
<rect x="894.7" y="206.2" width="79.79999999999995" height="5" fill="#d9d9d9" stroke="#8a8a8a" stroke-width="0.8" rx="0"/>
<line x1="894.7" y1="208.7" x2="974.5" y2="208.7" stroke="#9a9a9a" stroke-width="0.6"/>
<line x1="974.5" y1="208.7" x2="978.5" y2="208.7" stroke="#888" stroke-width="1.2"/>
<rect x="917.3" y="300.9" width="57.200000000000045" height="5.6" fill="#d9d9d9" stroke="#8a8a8a" stroke-width="0.8" rx="0"/>
<line x1="917.3" y1="303.7" x2="974.5" y2="303.7" stroke="#9a9a9a" stroke-width="0.6"/>
<line x1="974.5" y1="303.7" x2="978.5" y2="303.7" stroke="#888" stroke-width="1.2"/>
<rect x="740.2" y="209.6" width="153.80000000000007" height="92.50000000000003" fill="#e4e4e4" stroke="none" stroke-width="1" rx="0"/>
<rect x="741.2" y="209.1" width="3.6" height="93.50000000000003" fill="#ffffff" stroke="#666666" stroke-width="1.15" rx="1.3"/>
<rect x="746.9" y="209.1" width="3.6" height="93.50000000000003" fill="#ffffff" stroke="#666666" stroke-width="1.15" rx="1.3"/>
<rect x="752.6" y="209.1" width="3.6" height="93.50000000000003" fill="#ffffff" stroke="#666666" stroke-width="1.15" rx="1.3"/>
<rect x="758.3" y="209.1" width="3.6" height="93.50000000000003" fill="#ffffff" stroke="#666666" stroke-width="1.15" rx="1.3"/>
<rect x="764.0" y="209.1" width="3.6" height="93.50000000000003" fill="#ffffff" stroke="#666666" stroke-width="1.15" rx="1.3"/>
<rect x="769.7" y="209.1" width="3.6" height="93.50000000000003" fill="#ffffff" stroke="#666666" stroke-width="1.15" rx="1.3"/>
<rect x="775.4" y="209.1" width="3.6" height="93.50000000000003" fill="#ffffff" stroke="#666666" stroke-width="1.15" rx="1.3"/>
<rect x="781.1" y="209.1" width="3.6" height="93.50000000000003" fill="#ffffff" stroke="#666666" stroke-width="1.15" rx="1.3"/>
<rect x="786.8" y="209.1" width="3.6" height="93.50000000000003" fill="#ffffff" stroke="#666666" stroke-width="1.15" rx="1.3"/>
<rect x="792.5" y="209.1" width="3.6" height="93.50000000000003" fill="#ffffff" stroke="#666666" stroke-width="1.15" rx="1.3"/>
<rect x="798.2" y="209.1" width="3.6" height="93.50000000000003" fill="#ffffff" stroke="#666666" stroke-width="1.15" rx="1.3"/>
<rect x="803.9" y="209.1" width="3.6" height="93.50000000000003" fill="#ffffff" stroke="#666666" stroke-width="1.15" rx="1.3"/>
<rect x="809.6" y="209.1" width="3.6" height="93.50000000000003" fill="#ffffff" stroke="#666666" stroke-width="1.15" rx="1.3"/>
<rect x="815.3" y="209.1" width="3.6" height="93.50000000000003" fill="#ffffff" stroke="#666666" stroke-width="1.15" rx="1.3"/>
<rect x="821.0" y="209.1" width="3.6" height="93.50000000000003" fill="#ffffff" stroke="#666666" stroke-width="1.15" rx="1.3"/>
<rect x="826.7" y="209.1" width="3.6" height="93.50000000000003" fill="#ffffff" stroke="#666666" stroke-width="1.15" rx="1.3"/>
<rect x="832.4" y="209.1" width="3.6" height="93.50000000000003" fill="#ffffff" stroke="#666666" stroke-width="1.15" rx="1.3"/>
<rect x="838.1" y="209.1" width="3.6" height="93.50000000000003" fill="#ffffff" stroke="#666666" stroke-width="1.15" rx="1.3"/>
<rect x="843.8" y="209.1" width="3.6" height="93.50000000000003" fill="#ffffff" stroke="#666666" stroke-width="1.15" rx="1.3"/>
<rect x="849.5" y="209.1" width="3.6" height="93.50000000000003" fill="#ffffff" stroke="#666666" stroke-width="1.15" rx="1.3"/>
<rect x="855.2" y="209.1" width="3.6" height="93.50000000000003" fill="#ffffff" stroke="#666666" stroke-width="1.15" rx="1.3"/>
<rect x="860.9" y="209.1" width="3.6" height="93.50000000000003" fill="#ffffff" stroke="#666666" stroke-width="1.15" rx="1.3"/>
<rect x="866.6" y="209.1" width="3.6" height="93.50000000000003" fill="#ffffff" stroke="#666666" stroke-width="1.15" rx="1.3"/>
<rect x="872.3" y="209.1" width="3.6" height="93.50000000000003" fill="#ffffff" stroke="#666666" stroke-width="1.15" rx="1.3"/>
<rect x="878.0" y="209.1" width="3.6" height="93.50000000000003" fill="#ffffff" stroke="#666666" stroke-width="1.15" rx="1.3"/>
<rect x="883.7" y="209.1" width="3.6" height="93.50000000000003" fill="#ffffff" stroke="#666666" stroke-width="1.15" rx="1.3"/>
<rect x="889.4" y="209.1" width="3.6" height="93.50000000000003" fill="#ffffff" stroke="#666666" stroke-width="1.15" rx="1.3"/>
<path d="M743.0 211.1 L748.7 255.9 L743.0 300.6 M754.4 211.1 L748.7 255.9 L754.4 300.6 M754.4 211.1 L760.1 255.9 L754.4 300.6 M765.8 211.1 L760.1 255.9 L765.8 300.6 M765.8 211.1 L771.5 255.9 L765.8 300.6 M777.2 211.1 L771.5 255.9 L777.2 300.6 M777.2 211.1 L782.9 255.9 L777.2 300.6 M788.6 211.1 L782.9 255.9 L788.6 300.6 M788.6 211.1 L794.3 255.9 L788.6 300.6 M800.0 211.1 L794.3 255.9 L800.0 300.6 M800.0 211.1 L805.7 255.9 L800.0 300.6 M811.4 211.1 L805.7 255.9 L811.4 300.6 M811.4 211.1 L817.1 255.9 L811.4 300.6 M822.8 211.1 L817.1 255.9 L822.8 300.6 M822.8 211.1 L828.5 255.9 L822.8 300.6 M834.2 211.1 L828.5 255.9 L834.2 300.6 M834.2 211.1 L839.9 255.9 L834.2 300.6 M845.6 211.1 L839.9 255.9 L845.6 300.6 M845.6 211.1 L851.3 255.9 L845.6 300.6 M857.0 211.1 L851.3 255.9 L857.0 300.6 M857.0 211.1 L862.7 255.9 L857.0 300.6 M868.4 211.1 L862.7 255.9 L868.4 300.6 M868.4 211.1 L874.1 255.9 L868.4 300.6 M879.8 211.1 L874.1 255.9 L879.8 300.6 M879.8 211.1 L885.5 255.9 L879.8 300.6 M891.2 211.1 L885.5 255.9 L891.2 300.6 " stroke="#909090" stroke-width="0.8" fill="none"/>
<rect x="894.1" y="281.5" width="22.700000000000045" height="20.600000000000023" fill="#e4e4e4" stroke="none" stroke-width="1" rx="0"/>
<rect x="895.1" y="281" width="3.6" height="21.600000000000023" fill="#ffffff" stroke="#666666" stroke-width="1.15" rx="1.3"/>
<rect x="900.8" y="281" width="3.6" height="21.600000000000023" fill="#ffffff" stroke="#666666" stroke-width="1.15" rx="1.3"/>
<rect x="906.5" y="281" width="3.6" height="21.600000000000023" fill="#ffffff" stroke="#666666" stroke-width="1.15" rx="1.3"/>
<rect x="912.2" y="281" width="3.6" height="21.600000000000023" fill="#ffffff" stroke="#666666" stroke-width="1.15" rx="1.3"/>
<rect x="741" y="232.39999999999998" width="152" height="5.6" fill="#a0a0a0" fill-opacity="0.4" stroke="#8a8a8a" stroke-width="0.8"/>
<line x1="741" y1="235.2" x2="893" y2="235.2" stroke="#a8a8a8" stroke-width="0.6"/>
<rect x="893" y="232.39999999999998" width="81.5" height="5.6" fill="#d9d9d9" stroke="#8a8a8a" stroke-width="0.8" rx="0"/>
<line x1="893" y1="235.2" x2="974.5" y2="235.2" stroke="#9a9a9a" stroke-width="0.6"/>
<line x1="974.5" y1="235.2" x2="978.5" y2="235.2" stroke="#888" stroke-width="1.2"/>
<rect x="741" y="274.8" width="152" height="5.6" fill="#a0a0a0" fill-opacity="0.4" stroke="#8a8a8a" stroke-width="0.8"/>
<line x1="741" y1="277.6" x2="893" y2="277.6" stroke="#a8a8a8" stroke-width="0.6"/>
<rect x="893" y="274.8" width="81.5" height="5.6" fill="#d9d9d9" stroke="#8a8a8a" stroke-width="0.8" rx="0"/>
<line x1="893" y1="277.6" x2="974.5" y2="277.6" stroke="#9a9a9a" stroke-width="0.6"/>
<line x1="974.5" y1="277.6" x2="978.5" y2="277.6" stroke="#888" stroke-width="1.2"/>
<rect x="927.9" y="250" width="26.800000000000068" height="12" fill="#e0e0e0" stroke="#8a8a8a" stroke-width="0.8" rx="0"/>
<rect x="968.8" y="249.4" width="7.100000000000023" height="14.099999999999994" fill="#cfcfcf" stroke="#8a8a8a" stroke-width="0.8" rx="0"/>
<text x="713" y="332.6" font-family="Liberation Sans" font-size="13" font-weight="bold" fill="#1b2b36" text-anchor="start" textLength="60" lengthAdjust="spacingAndGlyphs">Typ CV 44</text>
<text x="49.8" y="391.7" font-family="Liberation Sans" font-size="11.5" font-weight="bold" fill="#1b2b36" text-anchor="start" textLength="316" lengthAdjust="spacingAndGlyphs">Wielkości grzejników płytowych Purmo Ventil Compact [mm]:</text>
<text x="50" y="744.5" font-family="Liberation Sans" font-size="10.5" font-weight="normal" fill="#3a4650" text-anchor="start" textLength="227" lengthAdjust="spacingAndGlyphs">H - wysokość (200, 300, 400, 450, 500, 600, 900)</text>
<text x="50" y="762.2" font-family="Liberation Sans" font-size="10.5" font-weight="normal" fill="#3a4650" text-anchor="start" textLength="478.6" lengthAdjust="spacingAndGlyphs">L - długość (400*, 500*, 600, 700, 800, 900, 1000, 1100, 1200, 1400, 1600, 1800, 2000, 2300, 2600, 3000)</text>
<text x="50" y="779.9" font-family="Liberation Sans" font-size="10.5" font-weight="normal" fill="#3a4650" text-anchor="start" textLength="177" lengthAdjust="spacingAndGlyphs">h - rozstaw króćców przyłączeniowych</text>
<text x="50" y="797.6" font-family="Liberation Sans" font-size="10.5" font-weight="normal" fill="#3a4650" text-anchor="start" textLength="202.7" lengthAdjust="spacingAndGlyphs">* - oprócz grzejnika CV o wysokości 200 mm</text>
<defs></defs>
<clipPath id="w1"><path d="M77.4 464 L88.2 464 L88.2 648.4 L166.9 648.4 L166.9 659.6 L77.4 659.6 Z"/></clipPath>
<path d="M74.4 466.5 L169.9 385.4 M74.4 474.4 L169.9 393.3 M74.4 482.3 L169.9 401.2 M74.4 490.2 L169.9 409.1 M74.4 498.1 L169.9 417.0 M74.4 506.0 L169.9 424.9 M74.4 513.9 L169.9 432.8 M74.4 521.8 L169.9 440.7 M74.4 529.7 L169.9 448.6 M74.4 537.6 L169.9 456.5 M74.4 545.5 L169.9 464.4 M74.4 553.4 L169.9 472.3 M74.4 561.3 L169.9 480.2 M74.4 569.2 L169.9 488.1 M74.4 577.1 L169.9 496.0 M74.4 585.0 L169.9 503.9 M74.4 592.9 L169.9 511.8 M74.4 600.8 L169.9 519.7 M74.4 608.7 L169.9 527.6 M74.4 616.6 L169.9 535.5 M74.4 624.5 L169.9 543.4 M74.4 632.4 L169.9 551.3 M74.4 640.3 L169.9 559.2 M74.4 648.2 L169.9 567.1 M74.4 656.1 L169.9 575.0 M74.4 664.0 L169.9 582.9 M74.4 671.9 L169.9 590.8 M74.4 679.8 L169.9 598.7 M74.4 687.7 L169.9 606.6 M74.4 695.6 L169.9 614.5 M74.4 703.5 L169.9 622.4 M74.4 711.4 L169.9 630.3 M74.4 719.3 L169.9 638.2 M74.4 727.2 L169.9 646.1 M74.4 735.1 L169.9 654.0 M74.4 743.0 L169.9 661.9 " stroke="#9a9a9a" stroke-width="0.9" fill="none" clip-path="url(#w1)"/>
<line x1="88.2" y1="464" x2="88.2" y2="648.4" stroke="#9f9f9f" stroke-width="0.9"/>
<line x1="88.2" y1="648.4" x2="166.9" y2="648.4" stroke="#9f9f9f" stroke-width="0.9"/>
<line x1="77.4" y1="464" x2="77.4" y2="659.6" stroke="#d0d0d0" stroke-width="0.7"/>
<line x1="77.4" y1="659.6" x2="166.9" y2="659.6" stroke="#d0d0d0" stroke-width="0.7"/>
<line x1="166.9" y1="648.4" x2="166.9" y2="659.6" stroke="#d0d0d0" stroke-width="0.7"/>
<line x1="77.4" y1="464" x2="88.2" y2="464" stroke="#d8d8d8" stroke-width="0.6"/>
<line x1="97.4" y1="467.4" x2="116.4" y2="467.4" stroke="#6a6a6a" stroke-width="1"/>
<line x1="100.4" y1="607.5" x2="114.4" y2="607.5" stroke="#9a9a9a" stroke-width="0.9"/>
<line x1="97.4" y1="467.4" x2="97.4" y2="607.5" stroke="#9a9a9a" stroke-width="1"/>
<rect x="115.80000000000001" y="470.4" width="3.2" height="130.10000000000002" fill="#b3b3b3" stroke="none" stroke-width="1" rx="0"/>
<path d="M115.4 600.5 L117.4 606.5 L118.9 600.5" stroke="#888" stroke-width="0.9" fill="none"/>
<circle cx="106.9" cy="476.6" r="5.5" fill="none" stroke="#858585" stroke-width="1.9"/>
<line x1="99.4" y1="476.6" x2="114.4" y2="476.6" stroke="#a8a8a8" stroke-width="0.7"/>
<line x1="106.9" y1="469.1" x2="106.9" y2="484.1" stroke="#a8a8a8" stroke-width="0.7"/>
<circle cx="107.10000000000001" cy="597.3" r="4.8" fill="none" stroke="#7a7a7a" stroke-width="1.6"/>
<rect x="102.80000000000001" y="604" width="8.6" height="4" fill="#e4e4e4" stroke="#8a8a8a" stroke-width="0.8" rx="0"/>
<path d="M100.10000000000001 594.3 L113.10000000000001 601.3" stroke="#6a6a6a" stroke-width="1" fill="none"/>
<rect x="106.00000000000001" y="580.3" width="2.2" height="2.4" fill="none" stroke="#9a9a9a" stroke-width="0.7" rx="0"/>
<rect x="89.60000000000001" y="480" width="2.6" height="4" fill="#555" stroke="none" stroke-width="1" rx="0"/>
<rect x="89.60000000000001" y="485" width="3.6" height="5" fill="none" stroke="#888" stroke-width="0.8" rx="0"/>
<rect x="95.0" y="492" width="2.4" height="6" fill="#333" stroke="none" stroke-width="1" rx="0"/>
<path d="M88.2 498 L97.4 498 M88.2 508 L97.4 503" stroke="#777" stroke-width="0.9" fill="none"/>
<path d="M88.2 598.3 L96.4 598.3" stroke="#777" stroke-width="1.3" fill="none"/>
<path d="M88.7 595.3 L88.7 601.3" stroke="#666" stroke-width="1.5" fill="none"/>
<path d="M96.9 591.3 L96.9 607.3" stroke="#555" stroke-width="0.9" fill="none"/>
<line x1="62.6" y1="467.4" x2="62.6" y2="648.4" stroke="#a0a0a0" stroke-width="0.9"/>
<line x1="58.6" y1="467.4" x2="77.4" y2="467.4" stroke="#b0b0b0" stroke-width="0.8"/>
<line x1="60.4" y1="469.59999999999997" x2="64.8" y2="465.2" stroke="#808080" stroke-width="0.9"/>
<line x1="58.6" y1="487.6" x2="77.4" y2="487.6" stroke="#b0b0b0" stroke-width="0.8"/>
<line x1="60.4" y1="489.8" x2="64.8" y2="485.40000000000003" stroke="#808080" stroke-width="0.9"/>
<line x1="58.6" y1="607.5" x2="77.4" y2="607.5" stroke="#b0b0b0" stroke-width="0.8"/>
<line x1="60.4" y1="609.7" x2="64.8" y2="605.3" stroke="#808080" stroke-width="0.9"/>
<line x1="58.6" y1="648.4" x2="77.4" y2="648.4" stroke="#b0b0b0" stroke-width="0.8"/>
<line x1="60.4" y1="650.6" x2="64.8" y2="646.1999999999999" stroke="#808080" stroke-width="0.9"/>
<text x="53.6" y="475.5" font-family="Liberation Sans" font-size="9" font-weight="normal" fill="#4a4a4a" text-anchor="middle" textLength="9.5" lengthAdjust="spacingAndGlyphs" transform="rotate(-90 53.6 475.5)" dominant-baseline="central" stroke="#4a4a4a" stroke-width="0.12">72</text>
<text x="53.6" y="546.4" font-family="Liberation Sans" font-size="9" font-weight="normal" fill="#4a4a4a" text-anchor="middle" textLength="24" lengthAdjust="spacingAndGlyphs" transform="rotate(-90 53.6 546.4)" dominant-baseline="central" stroke="#4a4a4a" stroke-width="0.12">H - 72</text>
<text x="53.6" y="616.3" font-family="Liberation Sans" font-size="9" font-weight="normal" fill="#4a4a4a" text-anchor="middle" textLength="14" lengthAdjust="spacingAndGlyphs" transform="rotate(-90 53.6 616.3)" dominant-baseline="central" stroke="#4a4a4a" stroke-width="0.12">100</text>
<line x1="88.2" y1="450" x2="88.2" y2="464" stroke="#b0b0b0" stroke-width="0.8"/>
<line x1="97.4" y1="443" x2="97.4" y2="467" stroke="#b0b0b0" stroke-width="0.8"/>
<line x1="117.4" y1="443" x2="117.4" y2="467" stroke="#b0b0b0" stroke-width="0.8"/>
<line x1="86.2" y1="458.2" x2="99.4" y2="458.2" stroke="#a0a0a0" stroke-width="0.9"/>
<line x1="86.2" y1="460.2" x2="90.2" y2="456.2" stroke="#777" stroke-width="0.9"/>
<line x1="95.4" y1="460.2" x2="99.4" y2="456.2" stroke="#777" stroke-width="0.9"/>
<line x1="95.4" y1="451.8" x2="119.4" y2="451.8" stroke="#a0a0a0" stroke-width="0.9"/>
<line x1="95.4" y1="453.8" x2="99.4" y2="449.8" stroke="#777" stroke-width="0.9"/>
<line x1="115.4" y1="453.8" x2="119.4" y2="449.8" stroke="#777" stroke-width="0.9"/>
<text x="88.5" y="453.2" font-family="Liberation Sans" font-size="9" font-weight="normal" fill="#3a3a3a" text-anchor="middle" textLength="8" lengthAdjust="spacingAndGlyphs" stroke="#3a3a3a" stroke-width="0.12">31</text>
<text x="109.7" y="445.8" font-family="Liberation Sans" font-size="9" font-weight="normal" fill="#3a3a3a" text-anchor="middle" textLength="9.6" lengthAdjust="spacingAndGlyphs" stroke="#3a3a3a" stroke-width="0.12">60</text>
<line x1="120.4" y1="467.4" x2="149.0" y2="467.4" stroke="#a0a0a0" stroke-width="0.9"/>
<line x1="120.4" y1="476.6" x2="138.0" y2="476.6" stroke="#a0a0a0" stroke-width="0.9"/>
<line x1="120.4" y1="598.4" x2="138.0" y2="598.4" stroke="#a0a0a0" stroke-width="0.9"/>
<line x1="120.4" y1="607.5" x2="149.0" y2="607.5" stroke="#a0a0a0" stroke-width="0.9"/>
<line x1="135.0" y1="476.6" x2="135.0" y2="598.4" stroke="#a0a0a0" stroke-width="0.9"/>
<line x1="146.0" y1="467.4" x2="146.0" y2="607.5" stroke="#a0a0a0" stroke-width="0.9"/>
<line x1="141.5" y1="471.9" x2="150.5" y2="462.9" stroke="#777" stroke-width="0.9"/>
<line x1="141.5" y1="612.0" x2="150.5" y2="603.0" stroke="#777" stroke-width="0.9"/>
<line x1="133.0" y1="478.6" x2="137.0" y2="474.6" stroke="#777" stroke-width="0.9"/>
<line x1="133.0" y1="600.4" x2="137.0" y2="596.4" stroke="#777" stroke-width="0.9"/>
<text x="127.0" y="537.8" font-family="Liberation Sans" font-size="9" font-weight="normal" fill="#4a4a4a" text-anchor="middle" textLength="40" lengthAdjust="spacingAndGlyphs" transform="rotate(-90 127.0 537.8)" dominant-baseline="central" stroke="#4a4a4a" stroke-width="0.12">h = H - 50</text>
<text x="139.2" y="538.8" font-family="Liberation Sans" font-size="9" font-weight="normal" fill="#4a4a4a" text-anchor="middle" transform="rotate(-90 139.2 538.8)" dominant-baseline="central" stroke="#4a4a4a" stroke-width="0.12">H</text>
<line x1="88.2" y1="627.2" x2="126.2" y2="627.2" stroke="#a0a0a0" stroke-width="0.9"/>
<line x1="107.10000000000001" y1="611" x2="107.10000000000001" y2="632" stroke="#b0b0b0" stroke-width="0.8"/>
<line x1="105.10000000000001" y1="629.2" x2="109.10000000000001" y2="625.2" stroke="#777" stroke-width="0.9"/>
<text x="117" y="623.3" font-family="Liberation Sans" font-size="9" font-weight="normal" fill="#3a3a3a" text-anchor="middle" textLength="9.3" lengthAdjust="spacingAndGlyphs" stroke="#3a3a3a" stroke-width="0.12">61</text>
<clipPath id="w2"><path d="M236.2 464 L247.0 464 L247.0 648.4 L325.7 648.4 L325.7 659.6 L236.2 659.6 Z"/></clipPath>
<path d="M233.2 466.5 L328.7 385.4 M233.2 474.4 L328.7 393.3 M233.2 482.3 L328.7 401.2 M233.2 490.2 L328.7 409.1 M233.2 498.1 L328.7 417.0 M233.2 506.0 L328.7 424.9 M233.2 513.9 L328.7 432.8 M233.2 521.8 L328.7 440.7 M233.2 529.7 L328.7 448.6 M233.2 537.6 L328.7 456.5 M233.2 545.5 L328.7 464.4 M233.2 553.4 L328.7 472.3 M233.2 561.3 L328.7 480.2 M233.2 569.2 L328.7 488.1 M233.2 577.1 L328.7 496.0 M233.2 585.0 L328.7 503.9 M233.2 592.9 L328.7 511.8 M233.2 600.8 L328.7 519.7 M233.2 608.7 L328.7 527.6 M233.2 616.6 L328.7 535.5 M233.2 624.5 L328.7 543.4 M233.2 632.4 L328.7 551.3 M233.2 640.3 L328.7 559.2 M233.2 648.2 L328.7 567.1 M233.2 656.1 L328.7 575.0 M233.2 664.0 L328.7 582.9 M233.2 671.9 L328.7 590.8 M233.2 679.8 L328.7 598.7 M233.2 687.7 L328.7 606.6 M233.2 695.6 L328.7 614.5 M233.2 703.5 L328.7 622.4 M233.2 711.4 L328.7 630.3 M233.2 719.3 L328.7 638.2 M233.2 727.2 L328.7 646.1 M233.2 735.1 L328.7 654.0 M233.2 743.0 L328.7 661.9 " stroke="#9a9a9a" stroke-width="0.9" fill="none" clip-path="url(#w2)"/>
<line x1="247.0" y1="464" x2="247.0" y2="648.4" stroke="#9f9f9f" stroke-width="0.9"/>
<line x1="247.0" y1="648.4" x2="325.7" y2="648.4" stroke="#9f9f9f" stroke-width="0.9"/>
<line x1="236.2" y1="464" x2="236.2" y2="659.6" stroke="#d0d0d0" stroke-width="0.7"/>
<line x1="236.2" y1="659.6" x2="325.7" y2="659.6" stroke="#d0d0d0" stroke-width="0.7"/>
<line x1="325.7" y1="648.4" x2="325.7" y2="659.6" stroke="#d0d0d0" stroke-width="0.7"/>
<line x1="236.2" y1="464" x2="247.0" y2="464" stroke="#d8d8d8" stroke-width="0.6"/>
<line x1="256.0" y1="467.4" x2="275.2" y2="467.4" stroke="#6a6a6a" stroke-width="1"/>
<line x1="259.0" y1="607.5" x2="273.2" y2="607.5" stroke="#9a9a9a" stroke-width="0.9"/>
<rect x="254.4" y="469.9" width="3.2" height="135.10000000000002" fill="#b8b8b8" stroke="none" stroke-width="1" rx="0"/>
<line x1="254.4" y1="469.9" x2="254.4" y2="604.5" stroke="#8a8a8a" stroke-width="0.6"/>
<rect x="274.59999999999997" y="470.4" width="3.2" height="130.10000000000002" fill="#b3b3b3" stroke="none" stroke-width="1" rx="0"/>
<path d="M274.2 600.5 L276.2 606.5 L277.7 600.5" stroke="#888" stroke-width="0.9" fill="none"/>
<circle cx="265.6" cy="476.6" r="5.5" fill="none" stroke="#858585" stroke-width="1.9"/>
<line x1="258.1" y1="476.6" x2="273.1" y2="476.6" stroke="#a8a8a8" stroke-width="0.7"/>
<line x1="265.6" y1="469.1" x2="265.6" y2="484.1" stroke="#a8a8a8" stroke-width="0.7"/>
<circle cx="267.1" cy="597.3" r="4.8" fill="none" stroke="#7a7a7a" stroke-width="1.6"/>
<rect x="262.8" y="604" width="8.6" height="4" fill="#e4e4e4" stroke="#8a8a8a" stroke-width="0.8" rx="0"/>
<path d="M260.1 594.3 L273.1 601.3" stroke="#6a6a6a" stroke-width="1" fill="none"/>
<rect x="266.0" y="580.3" width="2.2" height="2.4" fill="none" stroke="#9a9a9a" stroke-width="0.7" rx="0"/>
<path d="M248.0 472 Q249.0 468.5 256.0 467.8" stroke="#777" stroke-width="0.9" fill="none"/>
<path d="M248.5 471 L248.5 600 Q249.0 609 256.0 609 L258.0 607" stroke="#8a8a8a" stroke-width="1" fill="none"/>
<path d="M250.0 471 L250.0 599 Q251.0 606 255.0 607" stroke="#b0b0b0" stroke-width="0.8" fill="none"/>
<rect x="249.4" y="475" width="2.4" height="10" fill="#7a7a7a" stroke="none" stroke-width="1" rx="0"/>
<rect x="249.4" y="490" width="2.4" height="5" fill="#444" stroke="none" stroke-width="1" rx="0"/>
<rect x="249.4" y="500" width="2.4" height="4" fill="none" stroke="#9a9a9a" stroke-width="0.7" rx="0"/>
<path d="M255.0 470 Q253.0 480 251.0 495" stroke="#9a9a9a" stroke-width="0.8" fill="none"/>
<path d="M257.0 592 L262.0 600 L259.0 606" stroke="#888" stroke-width="0.9" fill="none"/>
<line x1="228.8" y1="467.4" x2="228.8" y2="648.4" stroke="#a0a0a0" stroke-width="0.9"/>
<line x1="224.8" y1="467.4" x2="236.2" y2="467.4" stroke="#b0b0b0" stroke-width="0.8"/>
<line x1="226.60000000000002" y1="469.59999999999997" x2="231.0" y2="465.2" stroke="#808080" stroke-width="0.9"/>
<line x1="224.8" y1="503" x2="236.2" y2="503" stroke="#b0b0b0" stroke-width="0.8"/>
<line x1="226.60000000000002" y1="505.2" x2="231.0" y2="500.8" stroke="#808080" stroke-width="0.9"/>
<line x1="224.8" y1="607.5" x2="236.2" y2="607.5" stroke="#b0b0b0" stroke-width="0.8"/>
<line x1="226.60000000000002" y1="609.7" x2="231.0" y2="605.3" stroke="#808080" stroke-width="0.9"/>
<line x1="224.8" y1="648.4" x2="236.2" y2="648.4" stroke="#b0b0b0" stroke-width="0.8"/>
<line x1="226.60000000000002" y1="650.6" x2="231.0" y2="646.1999999999999" stroke="#808080" stroke-width="0.9"/>
<text x="219.8" y="485.2" font-family="Liberation Sans" font-size="9" font-weight="normal" fill="#4a4a4a" text-anchor="middle" textLength="13.5" lengthAdjust="spacingAndGlyphs" transform="rotate(-90 219.8 485.2)" dominant-baseline="central" stroke="#4a4a4a" stroke-width="0.12">105</text>
<text x="219.8" y="554" font-family="Liberation Sans" font-size="9" font-weight="normal" fill="#4a4a4a" text-anchor="middle" textLength="28.2" lengthAdjust="spacingAndGlyphs" transform="rotate(-90 219.8 554)" dominant-baseline="central" stroke="#4a4a4a" stroke-width="0.12">H - 105</text>
<text x="219.8" y="616.3" font-family="Liberation Sans" font-size="9" font-weight="normal" fill="#4a4a4a" text-anchor="middle" textLength="14" lengthAdjust="spacingAndGlyphs" transform="rotate(-90 219.8 616.3)" dominant-baseline="central" stroke="#4a4a4a" stroke-width="0.12">100</text>
<line x1="247.0" y1="450" x2="247.0" y2="464" stroke="#b0b0b0" stroke-width="0.8"/>
<line x1="256.0" y1="443" x2="256.0" y2="467" stroke="#b0b0b0" stroke-width="0.8"/>
<line x1="276.2" y1="443" x2="276.2" y2="467" stroke="#b0b0b0" stroke-width="0.8"/>
<line x1="245.0" y1="456.5" x2="258.0" y2="456.5" stroke="#a0a0a0" stroke-width="0.9"/>
<line x1="245.0" y1="458.5" x2="249.0" y2="454.5" stroke="#777" stroke-width="0.9"/>
<line x1="254.0" y1="458.5" x2="258.0" y2="454.5" stroke="#777" stroke-width="0.9"/>
<line x1="254.0" y1="448.3" x2="278.2" y2="448.3" stroke="#a0a0a0" stroke-width="0.9"/>
<line x1="254.0" y1="450.3" x2="258.0" y2="446.3" stroke="#777" stroke-width="0.9"/>
<line x1="274.2" y1="450.3" x2="278.2" y2="446.3" stroke="#777" stroke-width="0.9"/>
<text x="246.8" y="451.5" font-family="Liberation Sans" font-size="9" font-weight="normal" fill="#3a3a3a" text-anchor="middle" textLength="8.5" lengthAdjust="spacingAndGlyphs" stroke="#3a3a3a" stroke-width="0.12">25</text>
<text x="267.4" y="444.3" font-family="Liberation Sans" font-size="9" font-weight="normal" fill="#3a3a3a" text-anchor="middle" textLength="9.5" lengthAdjust="spacingAndGlyphs" stroke="#3a3a3a" stroke-width="0.12">70</text>
<line x1="279.2" y1="467.4" x2="308.5" y2="467.4" stroke="#a0a0a0" stroke-width="0.9"/>
<line x1="279.2" y1="476.6" x2="297.4" y2="476.6" stroke="#a0a0a0" stroke-width="0.9"/>
<line x1="279.2" y1="598.4" x2="297.4" y2="598.4" stroke="#a0a0a0" stroke-width="0.9"/>
<line x1="279.2" y1="607.5" x2="308.5" y2="607.5" stroke="#a0a0a0" stroke-width="0.9"/>
<line x1="294.4" y1="476.6" x2="294.4" y2="598.4" stroke="#a0a0a0" stroke-width="0.9"/>
<line x1="305.5" y1="467.4" x2="305.5" y2="607.5" stroke="#a0a0a0" stroke-width="0.9"/>
<line x1="301.0" y1="471.9" x2="310.0" y2="462.9" stroke="#777" stroke-width="0.9"/>
<line x1="301.0" y1="612.0" x2="310.0" y2="603.0" stroke="#777" stroke-width="0.9"/>
<line x1="292.4" y1="478.6" x2="296.4" y2="474.6" stroke="#777" stroke-width="0.9"/>
<line x1="292.4" y1="600.4" x2="296.4" y2="596.4" stroke="#777" stroke-width="0.9"/>
<text x="286.4" y="537.8" font-family="Liberation Sans" font-size="9" font-weight="normal" fill="#4a4a4a" text-anchor="middle" textLength="40" lengthAdjust="spacingAndGlyphs" transform="rotate(-90 286.4 537.8)" dominant-baseline="central" stroke="#4a4a4a" stroke-width="0.12">h = H - 50</text>
<text x="298.7" y="538.8" font-family="Liberation Sans" font-size="9" font-weight="normal" fill="#4a4a4a" text-anchor="middle" transform="rotate(-90 298.7 538.8)" dominant-baseline="central" stroke="#4a4a4a" stroke-width="0.12">H</text>
<line x1="247.0" y1="627.2" x2="285.2" y2="627.2" stroke="#a0a0a0" stroke-width="0.9"/>
<line x1="267.1" y1="611" x2="267.1" y2="632" stroke="#b0b0b0" stroke-width="0.8"/>
<line x1="265.1" y1="629.2" x2="269.1" y2="625.2" stroke="#777" stroke-width="0.9"/>
<text x="277.4" y="623.3" font-family="Liberation Sans" font-size="9" font-weight="normal" fill="#3a3a3a" text-anchor="middle" textLength="10.3" lengthAdjust="spacingAndGlyphs" stroke="#3a3a3a" stroke-width="0.12">60</text>
<clipPath id="w3"><path d="M391.2 464 L402.0 464 L402.0 648.4 L480.7 648.4 L480.7 659.6 L391.2 659.6 Z"/></clipPath>
<path d="M388.2 466.6 L483.7 385.4 M388.2 474.4 L483.7 393.3 M388.2 482.3 L483.7 401.2 M388.2 490.2 L483.7 409.1 M388.2 498.1 L483.7 417.0 M388.2 506.0 L483.7 424.9 M388.2 513.9 L483.7 432.8 M388.2 521.8 L483.7 440.7 M388.2 529.7 L483.7 448.6 M388.2 537.6 L483.7 456.5 M388.2 545.5 L483.7 464.4 M388.2 553.4 L483.7 472.3 M388.2 561.3 L483.7 480.2 M388.2 569.2 L483.7 488.1 M388.2 577.1 L483.7 496.0 M388.2 585.0 L483.7 503.9 M388.2 592.9 L483.7 511.8 M388.2 600.8 L483.7 519.7 M388.2 608.7 L483.7 527.6 M388.2 616.6 L483.7 535.5 M388.2 624.5 L483.7 543.4 M388.2 632.4 L483.7 551.3 M388.2 640.3 L483.7 559.2 M388.2 648.2 L483.7 567.1 M388.2 656.1 L483.7 575.0 M388.2 664.0 L483.7 582.9 M388.2 671.9 L483.7 590.8 M388.2 679.8 L483.7 598.7 M388.2 687.7 L483.7 606.6 M388.2 695.6 L483.7 614.5 M388.2 703.5 L483.7 622.4 M388.2 711.4 L483.7 630.3 M388.2 719.3 L483.7 638.2 M388.2 727.2 L483.7 646.1 M388.2 735.1 L483.7 654.0 M388.2 743.0 L483.7 661.9 " stroke="#9a9a9a" stroke-width="0.9" fill="none" clip-path="url(#w3)"/>
<line x1="402.0" y1="464" x2="402.0" y2="648.4" stroke="#9f9f9f" stroke-width="0.9"/>
<line x1="402.0" y1="648.4" x2="480.7" y2="648.4" stroke="#9f9f9f" stroke-width="0.9"/>
<line x1="391.2" y1="464" x2="391.2" y2="659.6" stroke="#d0d0d0" stroke-width="0.7"/>
<line x1="391.2" y1="659.6" x2="480.7" y2="659.6" stroke="#d0d0d0" stroke-width="0.7"/>
<line x1="480.7" y1="648.4" x2="480.7" y2="659.6" stroke="#d0d0d0" stroke-width="0.7"/>
<line x1="391.2" y1="464" x2="402.0" y2="464" stroke="#d8d8d8" stroke-width="0.6"/>
<line x1="411.2" y1="467.4" x2="436.0" y2="467.4" stroke="#6a6a6a" stroke-width="1"/>
<line x1="414.2" y1="607.5" x2="434.0" y2="607.5" stroke="#9a9a9a" stroke-width="0.9"/>
<rect x="409.59999999999997" y="469.9" width="3.2" height="135.10000000000002" fill="#b8b8b8" stroke="none" stroke-width="1" rx="0"/>
<line x1="409.59999999999997" y1="469.9" x2="409.59999999999997" y2="604.5" stroke="#8a8a8a" stroke-width="0.6"/>
<rect x="435.4" y="470.4" width="3.2" height="130.10000000000002" fill="#b3b3b3" stroke="none" stroke-width="1" rx="0"/>
<path d="M435.0 600.5 L437.0 606.5 L438.5 600.5" stroke="#888" stroke-width="0.9" fill="none"/>
<circle cx="424.09999999999997" cy="476.6" r="5.5" fill="none" stroke="#858585" stroke-width="1.9"/>
<line x1="416.59999999999997" y1="476.6" x2="431.59999999999997" y2="476.6" stroke="#a8a8a8" stroke-width="0.7"/>
<line x1="424.09999999999997" y1="469.1" x2="424.09999999999997" y2="484.1" stroke="#a8a8a8" stroke-width="0.7"/>
<circle cx="423.0" cy="597.3" r="4.8" fill="none" stroke="#7a7a7a" stroke-width="1.6"/>
<rect x="418.7" y="604" width="8.6" height="4" fill="#e4e4e4" stroke="#8a8a8a" stroke-width="0.8" rx="0"/>
<path d="M416.0 594.3 L429.0 601.3" stroke="#6a6a6a" stroke-width="1" fill="none"/>
<rect x="421.9" y="580.3" width="2.2" height="2.4" fill="none" stroke="#9a9a9a" stroke-width="0.7" rx="0"/>
<path d="M403.0 472 Q404.0 468.5 411.2 467.8" stroke="#777" stroke-width="0.9" fill="none"/>
<path d="M403.5 471 L403.5 600 Q404.0 609 411.2 609 L413.2 607" stroke="#8a8a8a" stroke-width="1" fill="none"/>
<path d="M405.0 471 L405.0 599 Q406.0 606 410.2 607" stroke="#b0b0b0" stroke-width="0.8" fill="none"/>
<rect x="404.4" y="475" width="2.4" height="10" fill="#7a7a7a" stroke="none" stroke-width="1" rx="0"/>
<rect x="404.4" y="490" width="2.4" height="5" fill="#444" stroke="none" stroke-width="1" rx="0"/>
<rect x="404.4" y="500" width="2.4" height="4" fill="none" stroke="#9a9a9a" stroke-width="0.7" rx="0"/>
<path d="M410.2 470 Q408.0 480 406.0 495" stroke="#9a9a9a" stroke-width="0.8" fill="none"/>
<path d="M412.2 592 L417.2 600 L414.2 606" stroke="#888" stroke-width="0.9" fill="none"/>
<line x1="383.3" y1="467.4" x2="383.3" y2="648.4" stroke="#a0a0a0" stroke-width="0.9"/>
<line x1="379.3" y1="467.4" x2="391.2" y2="467.4" stroke="#b0b0b0" stroke-width="0.8"/>
<line x1="381.1" y1="469.59999999999997" x2="385.5" y2="465.2" stroke="#808080" stroke-width="0.9"/>
<line x1="379.3" y1="503" x2="391.2" y2="503" stroke="#b0b0b0" stroke-width="0.8"/>
<line x1="381.1" y1="505.2" x2="385.5" y2="500.8" stroke="#808080" stroke-width="0.9"/>
<line x1="379.3" y1="607.5" x2="391.2" y2="607.5" stroke="#b0b0b0" stroke-width="0.8"/>
<line x1="381.1" y1="609.7" x2="385.5" y2="605.3" stroke="#808080" stroke-width="0.9"/>
<line x1="379.3" y1="648.4" x2="391.2" y2="648.4" stroke="#b0b0b0" stroke-width="0.8"/>
<line x1="381.1" y1="650.6" x2="385.5" y2="646.1999999999999" stroke="#808080" stroke-width="0.9"/>
<text x="374.3" y="485.2" font-family="Liberation Sans" font-size="9" font-weight="normal" fill="#4a4a4a" text-anchor="middle" textLength="13.5" lengthAdjust="spacingAndGlyphs" transform="rotate(-90 374.3 485.2)" dominant-baseline="central" stroke="#4a4a4a" stroke-width="0.12">105</text>
<text x="374.3" y="554" font-family="Liberation Sans" font-size="9" font-weight="normal" fill="#4a4a4a" text-anchor="middle" textLength="28.2" lengthAdjust="spacingAndGlyphs" transform="rotate(-90 374.3 554)" dominant-baseline="central" stroke="#4a4a4a" stroke-width="0.12">H - 105</text>
<text x="374.3" y="616.3" font-family="Liberation Sans" font-size="9" font-weight="normal" fill="#4a4a4a" text-anchor="middle" textLength="14" lengthAdjust="spacingAndGlyphs" transform="rotate(-90 374.3 616.3)" dominant-baseline="central" stroke="#4a4a4a" stroke-width="0.12">100</text>
<line x1="402.0" y1="450" x2="402.0" y2="464" stroke="#b0b0b0" stroke-width="0.8"/>
<line x1="411.2" y1="443" x2="411.2" y2="467" stroke="#b0b0b0" stroke-width="0.8"/>
<line x1="437.0" y1="443" x2="437.0" y2="467" stroke="#b0b0b0" stroke-width="0.8"/>
<line x1="400.0" y1="456.5" x2="413.2" y2="456.5" stroke="#a0a0a0" stroke-width="0.9"/>
<line x1="400.0" y1="458.5" x2="404.0" y2="454.5" stroke="#777" stroke-width="0.9"/>
<line x1="409.2" y1="458.5" x2="413.2" y2="454.5" stroke="#777" stroke-width="0.9"/>
<line x1="409.2" y1="448.3" x2="439.0" y2="448.3" stroke="#a0a0a0" stroke-width="0.9"/>
<line x1="409.2" y1="450.3" x2="413.2" y2="446.3" stroke="#777" stroke-width="0.9"/>
<line x1="435.0" y1="450.3" x2="439.0" y2="446.3" stroke="#777" stroke-width="0.9"/>
<text x="401.8" y="451.5" font-family="Liberation Sans" font-size="9" font-weight="normal" fill="#3a3a3a" text-anchor="middle" textLength="8.5" lengthAdjust="spacingAndGlyphs" stroke="#3a3a3a" stroke-width="0.12">25</text>
<text x="425.3" y="444.3" font-family="Liberation Sans" font-size="9" font-weight="normal" fill="#3a3a3a" text-anchor="middle" textLength="13" lengthAdjust="spacingAndGlyphs" stroke="#3a3a3a" stroke-width="0.12">102</text>
<line x1="440.0" y1="467.4" x2="469.5" y2="467.4" stroke="#a0a0a0" stroke-width="0.9"/>
<line x1="440.0" y1="476.6" x2="458.3" y2="476.6" stroke="#a0a0a0" stroke-width="0.9"/>
<line x1="440.0" y1="598.4" x2="458.3" y2="598.4" stroke="#a0a0a0" stroke-width="0.9"/>
<line x1="440.0" y1="607.5" x2="469.5" y2="607.5" stroke="#a0a0a0" stroke-width="0.9"/>
<line x1="455.3" y1="476.6" x2="455.3" y2="598.4" stroke="#a0a0a0" stroke-width="0.9"/>
<line x1="466.5" y1="467.4" x2="466.5" y2="607.5" stroke="#a0a0a0" stroke-width="0.9"/>
<line x1="462.0" y1="471.9" x2="471.0" y2="462.9" stroke="#777" stroke-width="0.9"/>
<line x1="462.0" y1="612.0" x2="471.0" y2="603.0" stroke="#777" stroke-width="0.9"/>
<line x1="453.3" y1="478.6" x2="457.3" y2="474.6" stroke="#777" stroke-width="0.9"/>
<line x1="453.3" y1="600.4" x2="457.3" y2="596.4" stroke="#777" stroke-width="0.9"/>
<text x="447.3" y="537.8" font-family="Liberation Sans" font-size="9" font-weight="normal" fill="#4a4a4a" text-anchor="middle" textLength="40" lengthAdjust="spacingAndGlyphs" transform="rotate(-90 447.3 537.8)" dominant-baseline="central" stroke="#4a4a4a" stroke-width="0.12">h = H - 50</text>
<text x="459.7" y="538.8" font-family="Liberation Sans" font-size="9" font-weight="normal" fill="#4a4a4a" text-anchor="middle" transform="rotate(-90 459.7 538.8)" dominant-baseline="central" stroke="#4a4a4a" stroke-width="0.12">H</text>
<line x1="402.0" y1="627.2" x2="440" y2="627.2" stroke="#a0a0a0" stroke-width="0.9"/>
<line x1="423.0" y1="611" x2="423.0" y2="632" stroke="#b0b0b0" stroke-width="0.8"/>
<line x1="421.0" y1="629.2" x2="425.0" y2="625.2" stroke="#777" stroke-width="0.9"/>
<text x="433" y="623.3" font-family="Liberation Sans" font-size="9" font-weight="normal" fill="#3a3a3a" text-anchor="middle" textLength="8.8" lengthAdjust="spacingAndGlyphs" stroke="#3a3a3a" stroke-width="0.12">76</text>
<clipPath id="w4"><path d="M546.2 464 L557.0 464 L557.0 648.4 L635.7 648.4 L635.7 659.6 L546.2 659.6 Z"/></clipPath>
<path d="M543.2 466.5 L638.7 385.4 M543.2 474.4 L638.7 393.3 M543.2 482.3 L638.7 401.2 M543.2 490.2 L638.7 409.1 M543.2 498.1 L638.7 417.0 M543.2 506.0 L638.7 424.9 M543.2 513.9 L638.7 432.8 M543.2 521.8 L638.7 440.7 M543.2 529.7 L638.7 448.6 M543.2 537.6 L638.7 456.5 M543.2 545.5 L638.7 464.4 M543.2 553.4 L638.7 472.3 M543.2 561.3 L638.7 480.2 M543.2 569.2 L638.7 488.1 M543.2 577.1 L638.7 496.0 M543.2 585.0 L638.7 503.9 M543.2 593.0 L638.7 511.8 M543.2 600.9 L638.7 519.7 M543.2 608.8 L638.7 527.6 M543.2 616.7 L638.7 535.5 M543.2 624.6 L638.7 543.4 M543.2 632.5 L638.7 551.3 M543.2 640.4 L638.7 559.2 M543.2 648.3 L638.7 567.1 M543.2 656.2 L638.7 575.0 M543.2 664.1 L638.7 582.9 M543.2 672.0 L638.7 590.8 M543.2 679.9 L638.7 598.7 M543.2 687.8 L638.7 606.6 M543.2 695.7 L638.7 614.5 M543.2 703.6 L638.7 622.4 M543.2 711.5 L638.7 630.3 M543.2 719.4 L638.7 638.2 M543.2 727.3 L638.7 646.1 M543.2 735.2 L638.7 654.0 M543.2 743.1 L638.7 661.9 " stroke="#9a9a9a" stroke-width="0.9" fill="none" clip-path="url(#w4)"/>
<line x1="557.0" y1="464" x2="557.0" y2="648.4" stroke="#9f9f9f" stroke-width="0.9"/>
<line x1="557.0" y1="648.4" x2="635.7" y2="648.4" stroke="#9f9f9f" stroke-width="0.9"/>
<line x1="546.2" y1="464" x2="546.2" y2="659.6" stroke="#d0d0d0" stroke-width="0.7"/>
<line x1="546.2" y1="659.6" x2="635.7" y2="659.6" stroke="#d0d0d0" stroke-width="0.7"/>
<line x1="635.7" y1="648.4" x2="635.7" y2="659.6" stroke="#d0d0d0" stroke-width="0.7"/>
<line x1="546.2" y1="464" x2="557.0" y2="464" stroke="#d8d8d8" stroke-width="0.6"/>
<line x1="566.2" y1="467.4" x2="601.1" y2="467.4" stroke="#6a6a6a" stroke-width="1"/>
<line x1="569.2" y1="607.5" x2="599.1" y2="607.5" stroke="#9a9a9a" stroke-width="0.9"/>
<rect x="564.6" y="469.9" width="3.2" height="135.10000000000002" fill="#b8b8b8" stroke="none" stroke-width="1" rx="0"/>
<line x1="564.6" y1="469.9" x2="564.6" y2="604.5" stroke="#8a8a8a" stroke-width="0.6"/>
<rect x="600.5" y="470.4" width="3.2" height="130.10000000000002" fill="#b3b3b3" stroke="none" stroke-width="1" rx="0"/>
<path d="M600.1 600.5 L602.1 606.5 L603.6 600.5" stroke="#888" stroke-width="0.9" fill="none"/>
<circle cx="578.5" cy="476.6" r="5.5" fill="none" stroke="#858585" stroke-width="1.9"/>
<line x1="571.0" y1="476.6" x2="586.0" y2="476.6" stroke="#a8a8a8" stroke-width="0.7"/>
<line x1="578.5" y1="469.1" x2="578.5" y2="484.1" stroke="#a8a8a8" stroke-width="0.7"/>
<circle cx="579.0" cy="597.3" r="4.8" fill="none" stroke="#7a7a7a" stroke-width="1.6"/>
<rect x="574.7" y="604" width="8.6" height="4" fill="#e4e4e4" stroke="#8a8a8a" stroke-width="0.8" rx="0"/>
<path d="M572.0 594.3 L585.0 601.3" stroke="#6a6a6a" stroke-width="1" fill="none"/>
<rect x="577.9" y="580.3" width="2.2" height="2.4" fill="none" stroke="#9a9a9a" stroke-width="0.7" rx="0"/>
<path d="M558.0 472 Q559.0 468.5 566.2 467.8" stroke="#777" stroke-width="0.9" fill="none"/>
<path d="M558.5 471 L558.5 600 Q559.0 609 566.2 609 L568.2 607" stroke="#8a8a8a" stroke-width="1" fill="none"/>
<path d="M560.0 471 L560.0 599 Q561.0 606 565.2 607" stroke="#b0b0b0" stroke-width="0.8" fill="none"/>
<rect x="559.4" y="475" width="2.4" height="10" fill="#7a7a7a" stroke="none" stroke-width="1" rx="0"/>
<rect x="559.4" y="490" width="2.4" height="5" fill="#444" stroke="none" stroke-width="1" rx="0"/>
<rect x="559.4" y="500" width="2.4" height="4" fill="none" stroke="#9a9a9a" stroke-width="0.7" rx="0"/>
<path d="M565.2 470 Q563.0 480 561.0 495" stroke="#9a9a9a" stroke-width="0.8" fill="none"/>
<path d="M567.2 592 L572.2 600 L569.2 606" stroke="#888" stroke-width="0.9" fill="none"/>
<line x1="538.3" y1="467.4" x2="538.3" y2="648.4" stroke="#a0a0a0" stroke-width="0.9"/>
<line x1="534.3" y1="467.4" x2="546.2" y2="467.4" stroke="#b0b0b0" stroke-width="0.8"/>
<line x1="536.0999999999999" y1="469.59999999999997" x2="540.5" y2="465.2" stroke="#808080" stroke-width="0.9"/>
<line x1="534.3" y1="503" x2="546.2" y2="503" stroke="#b0b0b0" stroke-width="0.8"/>
<line x1="536.0999999999999" y1="505.2" x2="540.5" y2="500.8" stroke="#808080" stroke-width="0.9"/>
<line x1="534.3" y1="607.5" x2="546.2" y2="607.5" stroke="#b0b0b0" stroke-width="0.8"/>
<line x1="536.0999999999999" y1="609.7" x2="540.5" y2="605.3" stroke="#808080" stroke-width="0.9"/>
<line x1="534.3" y1="648.4" x2="546.2" y2="648.4" stroke="#b0b0b0" stroke-width="0.8"/>
<line x1="536.0999999999999" y1="650.6" x2="540.5" y2="646.1999999999999" stroke="#808080" stroke-width="0.9"/>
<text x="529.3" y="485.2" font-family="Liberation Sans" font-size="9" font-weight="normal" fill="#4a4a4a" text-anchor="middle" textLength="13.5" lengthAdjust="spacingAndGlyphs" transform="rotate(-90 529.3 485.2)" dominant-baseline="central" stroke="#4a4a4a" stroke-width="0.12">105</text>
<text x="529.3" y="554" font-family="Liberation Sans" font-size="9" font-weight="normal" fill="#4a4a4a" text-anchor="middle" textLength="28.2" lengthAdjust="spacingAndGlyphs" transform="rotate(-90 529.3 554)" dominant-baseline="central" stroke="#4a4a4a" stroke-width="0.12">H - 105</text>
<text x="529.3" y="616.3" font-family="Liberation Sans" font-size="9" font-weight="normal" fill="#4a4a4a" text-anchor="middle" textLength="14" lengthAdjust="spacingAndGlyphs" transform="rotate(-90 529.3 616.3)" dominant-baseline="central" stroke="#4a4a4a" stroke-width="0.12">100</text>
<line x1="557.0" y1="450" x2="557.0" y2="464" stroke="#b0b0b0" stroke-width="0.8"/>
<line x1="566.2" y1="443" x2="566.2" y2="467" stroke="#b0b0b0" stroke-width="0.8"/>
<line x1="602.1" y1="443" x2="602.1" y2="467" stroke="#b0b0b0" stroke-width="0.8"/>
<line x1="555.0" y1="456.5" x2="568.2" y2="456.5" stroke="#a0a0a0" stroke-width="0.9"/>
<line x1="555.0" y1="458.5" x2="559.0" y2="454.5" stroke="#777" stroke-width="0.9"/>
<line x1="564.2" y1="458.5" x2="568.2" y2="454.5" stroke="#777" stroke-width="0.9"/>
<line x1="564.2" y1="448.3" x2="604.1" y2="448.3" stroke="#a0a0a0" stroke-width="0.9"/>
<line x1="564.2" y1="450.3" x2="568.2" y2="446.3" stroke="#777" stroke-width="0.9"/>
<line x1="600.1" y1="450.3" x2="604.1" y2="446.3" stroke="#777" stroke-width="0.9"/>
<text x="556.8" y="451.5" font-family="Liberation Sans" font-size="9" font-weight="normal" fill="#3a3a3a" text-anchor="middle" textLength="8.5" lengthAdjust="spacingAndGlyphs" stroke="#3a3a3a" stroke-width="0.12">25</text>
<text x="584.4" y="444.3" font-family="Liberation Sans" font-size="9" font-weight="normal" fill="#3a3a3a" text-anchor="middle" textLength="11.5" lengthAdjust="spacingAndGlyphs" stroke="#3a3a3a" stroke-width="0.12">152</text>
<line x1="605.1" y1="467.4" x2="634.5" y2="467.4" stroke="#a0a0a0" stroke-width="0.9"/>
<line x1="605.1" y1="476.6" x2="622.7" y2="476.6" stroke="#a0a0a0" stroke-width="0.9"/>
<line x1="605.1" y1="598.4" x2="622.7" y2="598.4" stroke="#a0a0a0" stroke-width="0.9"/>
<line x1="605.1" y1="607.5" x2="634.5" y2="607.5" stroke="#a0a0a0" stroke-width="0.9"/>
<line x1="619.7" y1="476.6" x2="619.7" y2="598.4" stroke="#a0a0a0" stroke-width="0.9"/>
<line x1="631.5" y1="467.4" x2="631.5" y2="607.5" stroke="#a0a0a0" stroke-width="0.9"/>
<line x1="627.0" y1="471.9" x2="636.0" y2="462.9" stroke="#777" stroke-width="0.9"/>
<line x1="627.0" y1="612.0" x2="636.0" y2="603.0" stroke="#777" stroke-width="0.9"/>
<line x1="617.7" y1="478.6" x2="621.7" y2="474.6" stroke="#777" stroke-width="0.9"/>
<line x1="617.7" y1="600.4" x2="621.7" y2="596.4" stroke="#777" stroke-width="0.9"/>
<text x="611.7" y="537.8" font-family="Liberation Sans" font-size="9" font-weight="normal" fill="#4a4a4a" text-anchor="middle" textLength="40" lengthAdjust="spacingAndGlyphs" transform="rotate(-90 611.7 537.8)" dominant-baseline="central" stroke="#4a4a4a" stroke-width="0.12">h = H - 50</text>
<text x="624.7" y="538.8" font-family="Liberation Sans" font-size="9" font-weight="normal" fill="#4a4a4a" text-anchor="middle" transform="rotate(-90 624.7 538.8)" dominant-baseline="central" stroke="#4a4a4a" stroke-width="0.12">H</text>
<line x1="557.0" y1="627.2" x2="595" y2="627.2" stroke="#a0a0a0" stroke-width="0.9"/>
<line x1="579.0" y1="611" x2="579.0" y2="632" stroke="#b0b0b0" stroke-width="0.8"/>
<line x1="577.0" y1="629.2" x2="581.0" y2="625.2" stroke="#777" stroke-width="0.9"/>
<text x="586.6" y="623.3" font-family="Liberation Sans" font-size="9" font-weight="normal" fill="#3a3a3a" text-anchor="middle" textLength="8.8" lengthAdjust="spacingAndGlyphs" stroke="#3a3a3a" stroke-width="0.12">76</text>
<clipPath id="w5"><path d="M701.2 464 L712.0 464 L712.0 648.4 L790.7 648.4 L790.7 659.6 L701.2 659.6 Z"/></clipPath>
<path d="M698.2 466.5 L793.7 385.4 M698.2 474.5 L793.7 393.3 M698.2 482.4 L793.7 401.2 M698.2 490.3 L793.7 409.1 M698.2 498.2 L793.7 417.0 M698.2 506.1 L793.7 424.9 M698.2 514.0 L793.7 432.8 M698.2 521.9 L793.7 440.7 M698.2 529.8 L793.7 448.6 M698.2 537.7 L793.7 456.5 M698.2 545.6 L793.7 464.4 M698.2 553.5 L793.7 472.3 M698.2 561.4 L793.7 480.2 M698.2 569.3 L793.7 488.1 M698.2 577.2 L793.7 496.0 M698.2 585.1 L793.7 503.9 M698.2 593.0 L793.7 511.8 M698.2 600.9 L793.7 519.7 M698.2 608.8 L793.7 527.6 M698.2 616.7 L793.7 535.5 M698.2 624.6 L793.7 543.4 M698.2 632.5 L793.7 551.3 M698.2 640.4 L793.7 559.2 M698.2 648.3 L793.7 567.1 M698.2 656.2 L793.7 575.0 M698.2 664.1 L793.7 582.9 M698.2 672.0 L793.7 590.8 M698.2 679.9 L793.7 598.7 M698.2 687.8 L793.7 606.6 M698.2 695.7 L793.7 614.5 M698.2 703.6 L793.7 622.4 M698.2 711.5 L793.7 630.3 M698.2 719.4 L793.7 638.2 M698.2 727.3 L793.7 646.1 M698.2 735.2 L793.7 654.0 M698.2 743.1 L793.7 661.9 " stroke="#9a9a9a" stroke-width="0.9" fill="none" clip-path="url(#w5)"/>
<line x1="712.0" y1="464" x2="712.0" y2="648.4" stroke="#9f9f9f" stroke-width="0.9"/>
<line x1="712.0" y1="648.4" x2="790.7" y2="648.4" stroke="#9f9f9f" stroke-width="0.9"/>
<line x1="701.2" y1="464" x2="701.2" y2="659.6" stroke="#d0d0d0" stroke-width="0.7"/>
<line x1="701.2" y1="659.6" x2="790.7" y2="659.6" stroke="#d0d0d0" stroke-width="0.7"/>
<line x1="790.7" y1="648.4" x2="790.7" y2="659.6" stroke="#d0d0d0" stroke-width="0.7"/>
<line x1="701.2" y1="464" x2="712.0" y2="464" stroke="#d8d8d8" stroke-width="0.6"/>
<line x1="720.6" y1="467.4" x2="755.5" y2="467.4" stroke="#6a6a6a" stroke-width="1"/>
<line x1="723.6" y1="607.5" x2="753.5" y2="607.5" stroke="#9a9a9a" stroke-width="0.9"/>
<rect x="719.0" y="469.9" width="3.2" height="135.10000000000002" fill="#b8b8b8" stroke="none" stroke-width="1" rx="0"/>
<line x1="719.0" y1="469.9" x2="719.0" y2="604.5" stroke="#8a8a8a" stroke-width="0.6"/>
<rect x="754.9" y="470.4" width="3.2" height="130.10000000000002" fill="#b3b3b3" stroke="none" stroke-width="1" rx="0"/>
<path d="M754.5 600.5 L756.5 606.5 L758.0 600.5" stroke="#888" stroke-width="0.9" fill="none"/>
<circle cx="743.0" cy="476.6" r="5.5" fill="none" stroke="#858585" stroke-width="1.9"/>
<line x1="735.5" y1="476.6" x2="750.5" y2="476.6" stroke="#a8a8a8" stroke-width="0.7"/>
<line x1="743.0" y1="469.1" x2="743.0" y2="484.1" stroke="#a8a8a8" stroke-width="0.7"/>
<circle cx="743.0" cy="597.3" r="4.8" fill="none" stroke="#7a7a7a" stroke-width="1.6"/>
<rect x="738.7" y="604" width="8.6" height="4" fill="#e4e4e4" stroke="#8a8a8a" stroke-width="0.8" rx="0"/>
<path d="M736.0 594.3 L749.0 601.3" stroke="#6a6a6a" stroke-width="1" fill="none"/>
<rect x="741.9" y="580.3" width="2.2" height="2.4" fill="none" stroke="#9a9a9a" stroke-width="0.7" rx="0"/>
<path d="M713.0 472 Q714.0 468.5 720.6 467.8" stroke="#777" stroke-width="0.9" fill="none"/>
<path d="M713.5 471 L713.5 600 Q714.0 609 720.6 609 L722.6 607" stroke="#8a8a8a" stroke-width="1" fill="none"/>
<path d="M715.0 471 L715.0 599 Q716.0 606 719.6 607" stroke="#b0b0b0" stroke-width="0.8" fill="none"/>
<rect x="714.4" y="475" width="2.4" height="10" fill="#7a7a7a" stroke="none" stroke-width="1" rx="0"/>
<rect x="714.4" y="490" width="2.4" height="5" fill="#444" stroke="none" stroke-width="1" rx="0"/>
<rect x="714.4" y="500" width="2.4" height="4" fill="none" stroke="#9a9a9a" stroke-width="0.7" rx="0"/>
<path d="M719.6 470 Q718.0 480 716.0 495" stroke="#9a9a9a" stroke-width="0.8" fill="none"/>
<path d="M754.0 592 L754.0 608" stroke="#777" stroke-width="1.6" fill="none"/>
<line x1="693.3" y1="467.4" x2="693.3" y2="648.4" stroke="#a0a0a0" stroke-width="0.9"/>
<line x1="689.3" y1="467.4" x2="701.2" y2="467.4" stroke="#b0b0b0" stroke-width="0.8"/>
<line x1="691.0999999999999" y1="469.59999999999997" x2="695.5" y2="465.2" stroke="#808080" stroke-width="0.9"/>
<line x1="689.3" y1="503" x2="701.2" y2="503" stroke="#b0b0b0" stroke-width="0.8"/>
<line x1="691.0999999999999" y1="505.2" x2="695.5" y2="500.8" stroke="#808080" stroke-width="0.9"/>
<line x1="689.3" y1="607.5" x2="701.2" y2="607.5" stroke="#b0b0b0" stroke-width="0.8"/>
<line x1="691.0999999999999" y1="609.7" x2="695.5" y2="605.3" stroke="#808080" stroke-width="0.9"/>
<line x1="689.3" y1="648.4" x2="701.2" y2="648.4" stroke="#b0b0b0" stroke-width="0.8"/>
<line x1="691.0999999999999" y1="650.6" x2="695.5" y2="646.1999999999999" stroke="#808080" stroke-width="0.9"/>
<text x="684.3" y="485.2" font-family="Liberation Sans" font-size="9" font-weight="normal" fill="#4a4a4a" text-anchor="middle" textLength="13.5" lengthAdjust="spacingAndGlyphs" transform="rotate(-90 684.3 485.2)" dominant-baseline="central" stroke="#4a4a4a" stroke-width="0.12">105</text>
<text x="684.3" y="554" font-family="Liberation Sans" font-size="9" font-weight="normal" fill="#4a4a4a" text-anchor="middle" textLength="28.2" lengthAdjust="spacingAndGlyphs" transform="rotate(-90 684.3 554)" dominant-baseline="central" stroke="#4a4a4a" stroke-width="0.12">H - 105</text>
<text x="684.3" y="616.3" font-family="Liberation Sans" font-size="9" font-weight="normal" fill="#4a4a4a" text-anchor="middle" textLength="14" lengthAdjust="spacingAndGlyphs" transform="rotate(-90 684.3 616.3)" dominant-baseline="central" stroke="#4a4a4a" stroke-width="0.12">100</text>
<line x1="712.0" y1="450" x2="712.0" y2="464" stroke="#b0b0b0" stroke-width="0.8"/>
<line x1="720.6" y1="443" x2="720.6" y2="467" stroke="#b0b0b0" stroke-width="0.8"/>
<line x1="756.5" y1="443" x2="756.5" y2="467" stroke="#b0b0b0" stroke-width="0.8"/>
<line x1="710.0" y1="456.5" x2="722.6" y2="456.5" stroke="#a0a0a0" stroke-width="0.9"/>
<line x1="710.0" y1="458.5" x2="714.0" y2="454.5" stroke="#777" stroke-width="0.9"/>
<line x1="718.6" y1="458.5" x2="722.6" y2="454.5" stroke="#777" stroke-width="0.9"/>
<line x1="718.6" y1="448.3" x2="758.5" y2="448.3" stroke="#a0a0a0" stroke-width="0.9"/>
<line x1="718.6" y1="450.3" x2="722.6" y2="446.3" stroke="#777" stroke-width="0.9"/>
<line x1="754.5" y1="450.3" x2="758.5" y2="446.3" stroke="#777" stroke-width="0.9"/>
<text x="711.8" y="451.5" font-family="Liberation Sans" font-size="9" font-weight="normal" fill="#3a3a3a" text-anchor="middle" textLength="8.5" lengthAdjust="spacingAndGlyphs" stroke="#3a3a3a" stroke-width="0.12">25</text>
<text x="739.4" y="444.3" font-family="Liberation Sans" font-size="9" font-weight="normal" fill="#3a3a3a" text-anchor="middle" textLength="11.5" lengthAdjust="spacingAndGlyphs" stroke="#3a3a3a" stroke-width="0.12">152</text>
<line x1="759.5" y1="467.4" x2="788.9" y2="467.4" stroke="#a0a0a0" stroke-width="0.9"/>
<line x1="759.5" y1="476.6" x2="776.5" y2="476.6" stroke="#a0a0a0" stroke-width="0.9"/>
<line x1="759.5" y1="598.4" x2="776.5" y2="598.4" stroke="#a0a0a0" stroke-width="0.9"/>
<line x1="759.5" y1="607.5" x2="788.9" y2="607.5" stroke="#a0a0a0" stroke-width="0.9"/>
<line x1="773.5" y1="476.6" x2="773.5" y2="598.4" stroke="#a0a0a0" stroke-width="0.9"/>
<line x1="785.9" y1="467.4" x2="785.9" y2="607.5" stroke="#a0a0a0" stroke-width="0.9"/>
<line x1="781.4" y1="471.9" x2="790.4" y2="462.9" stroke="#777" stroke-width="0.9"/>
<line x1="781.4" y1="612.0" x2="790.4" y2="603.0" stroke="#777" stroke-width="0.9"/>
<line x1="771.5" y1="478.6" x2="775.5" y2="474.6" stroke="#777" stroke-width="0.9"/>
<line x1="771.5" y1="600.4" x2="775.5" y2="596.4" stroke="#777" stroke-width="0.9"/>
<text x="765.5" y="537.8" font-family="Liberation Sans" font-size="9" font-weight="normal" fill="#4a4a4a" text-anchor="middle" textLength="40" lengthAdjust="spacingAndGlyphs" transform="rotate(-90 765.5 537.8)" dominant-baseline="central" stroke="#4a4a4a" stroke-width="0.12">h = H - 50</text>
<text x="779.1" y="538.8" font-family="Liberation Sans" font-size="9" font-weight="normal" fill="#4a4a4a" text-anchor="middle" transform="rotate(-90 779.1 538.8)" dominant-baseline="central" stroke="#4a4a4a" stroke-width="0.12">H</text>
<line x1="712.0" y1="627.2" x2="766.5" y2="627.2" stroke="#a0a0a0" stroke-width="0.9"/>
<line x1="743.0" y1="611" x2="743.0" y2="632" stroke="#b0b0b0" stroke-width="0.8"/>
<line x1="741.0" y1="629.2" x2="745.0" y2="625.2" stroke="#777" stroke-width="0.9"/>
<text x="755.3" y="623.3" font-family="Liberation Sans" font-size="9" font-weight="normal" fill="#3a3a3a" text-anchor="middle" textLength="12.4" lengthAdjust="spacingAndGlyphs" stroke="#3a3a3a" stroke-width="0.12">126</text>
<clipPath id="w6"><path d="M865.4 532.4 L876.4 532.4 L876.4 647.8 L958 647.8 L958 658.2 L865.4 658.2 Z"/></clipPath>
<path d="M862.4 535.7 L961.0 427.2 M862.4 544.6 L961.0 436.1 M862.4 553.5 L961.0 445.0 M862.4 562.4 L961.0 453.9 M862.4 571.3 L961.0 462.8 M862.4 580.2 L961.0 471.7 M862.4 589.1 L961.0 480.6 M862.4 598.0 L961.0 489.5 M862.4 606.9 L961.0 498.4 M862.4 615.8 L961.0 507.3 M862.4 624.7 L961.0 516.2 M862.4 633.6 L961.0 525.1 M862.4 642.5 L961.0 534.0 M862.4 651.4 L961.0 542.9 M862.4 660.3 L961.0 551.8 M862.4 669.2 L961.0 560.7 M862.4 678.1 L961.0 569.6 M862.4 687.0 L961.0 578.5 M862.4 695.9 L961.0 587.4 M862.4 704.8 L961.0 596.3 M862.4 713.7 L961.0 605.2 M862.4 722.6 L961.0 614.1 M862.4 731.5 L961.0 623.0 M862.4 740.4 L961.0 631.9 M862.4 749.3 L961.0 640.8 M862.4 758.2 L961.0 649.7 M862.4 767.1 L961.0 658.6 " stroke="#4a4a4a" stroke-width="0.8" fill="none" clip-path="url(#w6)"/>
<path d="M865.4 532.4 L876.4 532.4 L876.4 647.8 L958 647.8 L958 658.2 L865.4 658.2 Z" stroke="#2a2a2a" stroke-width="1" fill="none"/>
<line x1="888.0" y1="536.3" x2="940.0" y2="536.3" stroke="#2a2a2a" stroke-width="1.1"/>
<line x1="888.0" y1="536.3" x2="888.0" y2="608.0" stroke="#2a2a2a" stroke-width="1"/>
<line x1="890.0" y1="539.3" x2="890.0" y2="607.0" stroke="#666" stroke-width="0.8"/>
<line x1="944.0" y1="540.3" x2="944.0" y2="605.0" stroke="#2a2a2a" stroke-width="1"/>
<line x1="940.5" y1="537.3" x2="940.5" y2="608.0" stroke="#555" stroke-width="0.8"/>
<path d="M940.0 536.3 Q944.0 536.3 944.0 541.3" stroke="#2a2a2a" stroke-width="1" fill="none"/>
<line x1="896.0" y1="608.0" x2="941.0" y2="608.0" stroke="#666" stroke-width="0.8"/>
<circle cx="915.6" cy="544.3" r="5.8" fill="none" stroke="#2a2a2a" stroke-width="1.5"/>
<line x1="908" y1="544.3" x2="923" y2="544.3" stroke="#2a2a2a" stroke-width="0.9"/>
<line x1="915.6" y1="536.8" x2="915.6" y2="551.8" stroke="#2a2a2a" stroke-width="0.9"/>
<circle cx="915.6" cy="597.2" r="5.8" fill="none" stroke="#2a2a2a" stroke-width="1.5"/>
<line x1="908" y1="597.2" x2="923" y2="597.2" stroke="#2a2a2a" stroke-width="0.9"/>
<line x1="915.6" y1="589.7" x2="915.6" y2="604.7" stroke="#2a2a2a" stroke-width="0.9"/>
<rect x="914.2" y="580.8" width="2.8" height="2.8" fill="none" stroke="#2a2a2a" stroke-width="0.8" rx="0"/>
<path d="M890 594 Q896 597 898 600 L905 600 L905 598 L910 598 M890 608 L898 604 L905 604 L905 606 L910 606" stroke="#2a2a2a" stroke-width="0.9" fill="none"/>
<path d="M893 606 L893 611 M905 606 L905 611 M910 607 L922 607 L922 610 L910 610 Z" stroke="#2a2a2a" stroke-width="1" fill="none"/>
<path d="M879.6 540 L879.6 630" stroke="#2a2a2a" stroke-width="1.4" fill="none"/>
<line x1="876.4" y1="532.4" x2="876.4" y2="647.8" stroke="#111" stroke-width="1.8"/>
<path d="M879 541 Q884 537 887 538 L888 536" stroke="#2a2a2a" stroke-width="1" fill="none"/>
<path d="M880.5 542 L884 541 L884.5 552 L883.5 566 L881 566 Z" stroke="#333" stroke-width="0.8" fill="#555"/>
<path d="M881 566 L883.5 566 L882.5 575 L881 575 Z" stroke="#2a2a2a" stroke-width="0.8" fill="#999"/>
<rect x="879.5" y="610" width="2" height="14" fill="#333" stroke="none" stroke-width="1" rx="0"/>
<line x1="878" y1="608" x2="888" y2="608" stroke="#2a2a2a" stroke-width="0.8"/>
<line x1="876.4" y1="629.8" x2="938.6" y2="608.8" stroke="#2a2a2a" stroke-width="0.9"/>
<line x1="876.4" y1="520" x2="876.4" y2="532.4" stroke="#2a2a2a" stroke-width="0.8"/>
<line x1="888" y1="511" x2="888" y2="537" stroke="#2a2a2a" stroke-width="0.8"/>
<line x1="944.7" y1="511" x2="944.7" y2="540" stroke="#2a2a2a" stroke-width="0.8"/>
<line x1="876.4" y1="524.4" x2="888" y2="524.4" stroke="#2a2a2a" stroke-width="0.9"/>
<line x1="874.4" y1="526.4" x2="878.4" y2="522.4" stroke="#2a2a2a" stroke-width="0.9"/>
<line x1="886" y1="526.4" x2="890" y2="522.4" stroke="#2a2a2a" stroke-width="0.9"/>
<line x1="888" y1="516.4" x2="945.5" y2="516.4" stroke="#2a2a2a" stroke-width="0.9"/>
<line x1="886" y1="518.4" x2="890" y2="514.4" stroke="#2a2a2a" stroke-width="0.9"/>
<line x1="942.7" y1="518.4" x2="946.7" y2="514.4" stroke="#2a2a2a" stroke-width="0.9"/>
<text x="876.2" y="520.2" font-family="Liberation Sans" font-size="10" font-weight="normal" fill="#2a2a2a" text-anchor="middle" textLength="10.5" lengthAdjust="spacingAndGlyphs" stroke="#2a2a2a" stroke-width="0.1">25</text>
<text x="915" y="513.3" font-family="Liberation Sans" font-size="10" font-weight="normal" fill="#2a2a2a" text-anchor="middle" textLength="16.5" lengthAdjust="spacingAndGlyphs" stroke="#2a2a2a" stroke-width="0.1">202</text>
<line x1="853" y1="536.3" x2="866" y2="536.3" stroke="#2a2a2a" stroke-width="0.8"/>
<line x1="853" y1="608" x2="866" y2="608" stroke="#2a2a2a" stroke-width="0.8"/>
<line x1="853" y1="648.2" x2="866" y2="648.2" stroke="#2a2a2a" stroke-width="0.8"/>
<line x1="857.5" y1="536.3" x2="857.5" y2="648.2" stroke="#2a2a2a" stroke-width="0.9"/>
<line x1="855.3" y1="538.5" x2="859.7" y2="534.0999999999999" stroke="#2a2a2a" stroke-width="0.9"/>
<line x1="855.3" y1="610.2" x2="859.7" y2="605.8" stroke="#2a2a2a" stroke-width="0.9"/>
<line x1="855.3" y1="650.4000000000001" x2="859.7" y2="646.0" stroke="#2a2a2a" stroke-width="0.9"/>
<text x="848.5" y="572" font-family="Liberation Sans" font-size="10" font-weight="normal" fill="#2a2a2a" text-anchor="middle" textLength="17" lengthAdjust="spacingAndGlyphs" transform="rotate(-90 848.5 572)" dominant-baseline="central" stroke="#2a2a2a" stroke-width="0.1">200</text>
<text x="849.8" y="627.5" font-family="Liberation Sans" font-size="10" font-weight="normal" fill="#2a2a2a" text-anchor="middle" textLength="34" lengthAdjust="spacingAndGlyphs" transform="rotate(-90 849.8 627.5)" dominant-baseline="central" stroke="#2a2a2a" stroke-width="0.1">min. 100</text>
<line x1="946" y1="544.8" x2="966" y2="544.8" stroke="#2a2a2a" stroke-width="0.9"/>
<line x1="946" y1="598.5" x2="966" y2="598.5" stroke="#2a2a2a" stroke-width="0.9"/>
<line x1="962.2" y1="544.8" x2="962.2" y2="598.5" stroke="#2a2a2a" stroke-width="0.9"/>
<line x1="959.7" y1="547.3" x2="964.7" y2="542.3" stroke="#2a2a2a" stroke-width="0.9"/>
<line x1="959.7" y1="601.0" x2="964.7" y2="596.0" stroke="#2a2a2a" stroke-width="0.9"/>
<text x="955" y="572" font-family="Liberation Sans" font-size="10" font-weight="normal" fill="#2a2a2a" text-anchor="middle" textLength="16" lengthAdjust="spacingAndGlyphs" transform="rotate(-90 955 572)" dominant-baseline="central" stroke="#2a2a2a" stroke-width="0.1">150</text>
<line x1="946" y1="536.3" x2="982" y2="536.3" stroke="#2a2a2a" stroke-width="0.9"/>
<line x1="946" y1="608" x2="982" y2="608" stroke="#2a2a2a" stroke-width="0.9"/>
<line x1="978.4" y1="536.3" x2="978.4" y2="608" stroke="#2a2a2a" stroke-width="0.9"/>
<line x1="975.4" y1="539.3" x2="981.4" y2="533.3" stroke="#2a2a2a" stroke-width="0.9"/>
<line x1="975.4" y1="611" x2="981.4" y2="605" stroke="#2a2a2a" stroke-width="0.9"/>
<text x="970.6" y="572" font-family="Liberation Sans" font-size="10" font-weight="normal" fill="#2a2a2a" text-anchor="middle" textLength="17" lengthAdjust="spacingAndGlyphs" transform="rotate(-90 970.6 572)" dominant-baseline="central" stroke="#2a2a2a" stroke-width="0.1">200</text>
<line x1="876.4" y1="635.3" x2="937.8" y2="635.3" stroke="#2a2a2a" stroke-width="0.9"/>
<line x1="915.2" y1="620" x2="915.2" y2="640" stroke="#2a2a2a" stroke-width="0.8"/>
<line x1="913.0" y1="637.5" x2="917.4000000000001" y2="633.0999999999999" stroke="#2a2a2a" stroke-width="0.9"/>
<text x="930.8" y="632.3" font-family="Liberation Sans" font-size="10" font-weight="normal" fill="#2a2a2a" text-anchor="middle" textLength="16" lengthAdjust="spacingAndGlyphs" stroke="#2a2a2a" stroke-width="0.1">126</text>
</svg></body></html>
